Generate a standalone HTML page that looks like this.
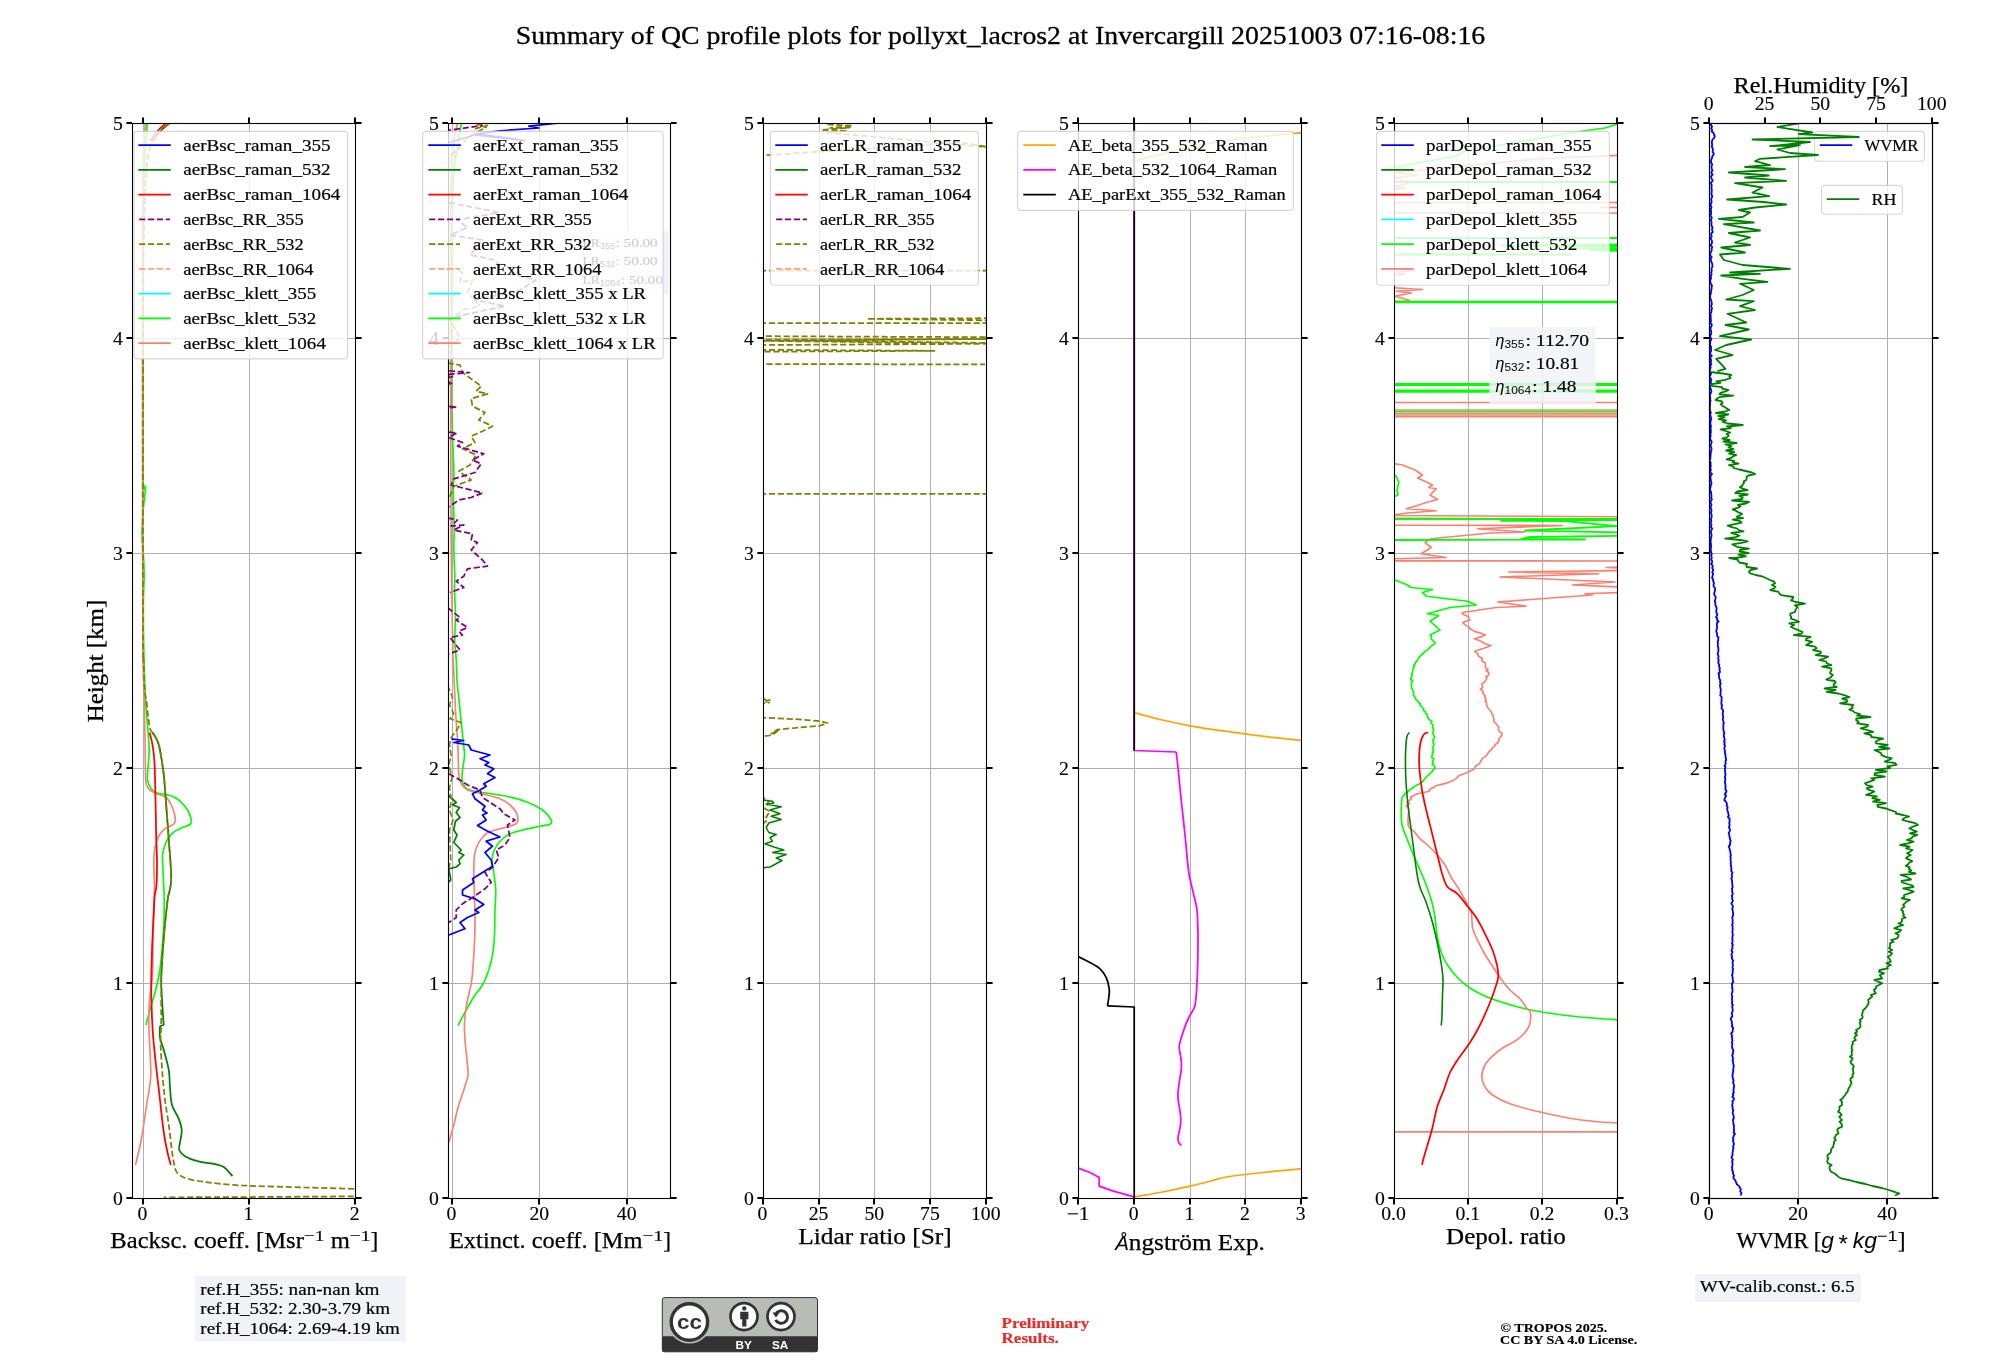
<!DOCTYPE html>
<html><head><meta charset="utf-8"><title>QC profile summary</title>
<style>html,body{margin:0;padding:0;background:#fff;}body{width:2000px;height:1360px;overflow:hidden;font-family:"Liberation Serif",serif;}svg{display:block;}text{white-space:pre;}</style>
</head><body>
<div style="will-change:transform;width:2000px;height:1360px;">
<svg width="2000" height="1360" viewBox="0 0 2000 1360" font-family="'Liberation Serif', serif" xml:space="preserve">
<rect width="2000" height="1360" fill="#fff"/>
<defs>
<clipPath id="c0"><rect x="132.50" y="123.50" width="223.00" height="1075.00"/></clipPath>
<clipPath id="c1"><rect x="448.50" y="123.50" width="222.00" height="1075.00"/></clipPath>
<clipPath id="c2"><rect x="763.50" y="123.50" width="223.00" height="1075.00"/></clipPath>
<clipPath id="c3"><rect x="1078.50" y="123.50" width="223.00" height="1075.00"/></clipPath>
<clipPath id="c4"><rect x="1394.50" y="123.50" width="223.00" height="1075.00"/></clipPath>
<clipPath id="c5"><rect x="1709.50" y="123.50" width="223.00" height="1075.00"/></clipPath>
</defs>
<text x="1000.50" y="43.60" font-size="24.78" text-anchor="middle" textLength="969.50" lengthAdjust="spacingAndGlyphs" fill="#000" stroke="#000" stroke-width="0.28" >Summary of QC profile plots for pollyxt_lacros2 at Invercargill 20251003 07:16-08:16</text>
<line x1="143.50" y1="123.50" x2="143.50" y2="1198.50" stroke="#b0b0b0" stroke-width="1.00" />
<line x1="249.50" y1="123.50" x2="249.50" y2="1198.50" stroke="#b0b0b0" stroke-width="1.00" />
<line x1="355.50" y1="123.50" x2="355.50" y2="1198.50" stroke="#b0b0b0" stroke-width="1.00" />
<line x1="132.50" y1="1198.50" x2="355.50" y2="1198.50" stroke="#b0b0b0" stroke-width="1.00" />
<line x1="132.50" y1="983.50" x2="355.50" y2="983.50" stroke="#b0b0b0" stroke-width="1.00" />
<line x1="132.50" y1="768.50" x2="355.50" y2="768.50" stroke="#b0b0b0" stroke-width="1.00" />
<line x1="132.50" y1="553.50" x2="355.50" y2="553.50" stroke="#b0b0b0" stroke-width="1.00" />
<line x1="132.50" y1="338.50" x2="355.50" y2="338.50" stroke="#b0b0b0" stroke-width="1.00" />
<line x1="132.50" y1="123.50" x2="355.50" y2="123.50" stroke="#b0b0b0" stroke-width="1.00" />
<line x1="452.50" y1="123.50" x2="452.50" y2="1198.50" stroke="#b0b0b0" stroke-width="1.00" />
<line x1="539.50" y1="123.50" x2="539.50" y2="1198.50" stroke="#b0b0b0" stroke-width="1.00" />
<line x1="627.50" y1="123.50" x2="627.50" y2="1198.50" stroke="#b0b0b0" stroke-width="1.00" />
<line x1="448.50" y1="1198.50" x2="670.50" y2="1198.50" stroke="#b0b0b0" stroke-width="1.00" />
<line x1="448.50" y1="983.50" x2="670.50" y2="983.50" stroke="#b0b0b0" stroke-width="1.00" />
<line x1="448.50" y1="768.50" x2="670.50" y2="768.50" stroke="#b0b0b0" stroke-width="1.00" />
<line x1="448.50" y1="553.50" x2="670.50" y2="553.50" stroke="#b0b0b0" stroke-width="1.00" />
<line x1="448.50" y1="338.50" x2="670.50" y2="338.50" stroke="#b0b0b0" stroke-width="1.00" />
<line x1="448.50" y1="123.50" x2="670.50" y2="123.50" stroke="#b0b0b0" stroke-width="1.00" />
<line x1="763.50" y1="123.50" x2="763.50" y2="1198.50" stroke="#b0b0b0" stroke-width="1.00" />
<line x1="819.50" y1="123.50" x2="819.50" y2="1198.50" stroke="#b0b0b0" stroke-width="1.00" />
<line x1="874.50" y1="123.50" x2="874.50" y2="1198.50" stroke="#b0b0b0" stroke-width="1.00" />
<line x1="930.50" y1="123.50" x2="930.50" y2="1198.50" stroke="#b0b0b0" stroke-width="1.00" />
<line x1="986.50" y1="123.50" x2="986.50" y2="1198.50" stroke="#b0b0b0" stroke-width="1.00" />
<line x1="763.50" y1="1198.50" x2="986.50" y2="1198.50" stroke="#b0b0b0" stroke-width="1.00" />
<line x1="763.50" y1="983.50" x2="986.50" y2="983.50" stroke="#b0b0b0" stroke-width="1.00" />
<line x1="763.50" y1="768.50" x2="986.50" y2="768.50" stroke="#b0b0b0" stroke-width="1.00" />
<line x1="763.50" y1="553.50" x2="986.50" y2="553.50" stroke="#b0b0b0" stroke-width="1.00" />
<line x1="763.50" y1="338.50" x2="986.50" y2="338.50" stroke="#b0b0b0" stroke-width="1.00" />
<line x1="763.50" y1="123.50" x2="986.50" y2="123.50" stroke="#b0b0b0" stroke-width="1.00" />
<line x1="1078.50" y1="123.50" x2="1078.50" y2="1198.50" stroke="#b0b0b0" stroke-width="1.00" />
<line x1="1134.50" y1="123.50" x2="1134.50" y2="1198.50" stroke="#b0b0b0" stroke-width="1.00" />
<line x1="1190.50" y1="123.50" x2="1190.50" y2="1198.50" stroke="#b0b0b0" stroke-width="1.00" />
<line x1="1245.50" y1="123.50" x2="1245.50" y2="1198.50" stroke="#b0b0b0" stroke-width="1.00" />
<line x1="1301.50" y1="123.50" x2="1301.50" y2="1198.50" stroke="#b0b0b0" stroke-width="1.00" />
<line x1="1078.50" y1="1198.50" x2="1301.50" y2="1198.50" stroke="#b0b0b0" stroke-width="1.00" />
<line x1="1078.50" y1="983.50" x2="1301.50" y2="983.50" stroke="#b0b0b0" stroke-width="1.00" />
<line x1="1078.50" y1="768.50" x2="1301.50" y2="768.50" stroke="#b0b0b0" stroke-width="1.00" />
<line x1="1078.50" y1="553.50" x2="1301.50" y2="553.50" stroke="#b0b0b0" stroke-width="1.00" />
<line x1="1078.50" y1="338.50" x2="1301.50" y2="338.50" stroke="#b0b0b0" stroke-width="1.00" />
<line x1="1078.50" y1="123.50" x2="1301.50" y2="123.50" stroke="#b0b0b0" stroke-width="1.00" />
<line x1="1394.50" y1="123.50" x2="1394.50" y2="1198.50" stroke="#b0b0b0" stroke-width="1.00" />
<line x1="1468.50" y1="123.50" x2="1468.50" y2="1198.50" stroke="#b0b0b0" stroke-width="1.00" />
<line x1="1542.50" y1="123.50" x2="1542.50" y2="1198.50" stroke="#b0b0b0" stroke-width="1.00" />
<line x1="1617.50" y1="123.50" x2="1617.50" y2="1198.50" stroke="#b0b0b0" stroke-width="1.00" />
<line x1="1394.50" y1="1198.50" x2="1617.50" y2="1198.50" stroke="#b0b0b0" stroke-width="1.00" />
<line x1="1394.50" y1="983.50" x2="1617.50" y2="983.50" stroke="#b0b0b0" stroke-width="1.00" />
<line x1="1394.50" y1="768.50" x2="1617.50" y2="768.50" stroke="#b0b0b0" stroke-width="1.00" />
<line x1="1394.50" y1="553.50" x2="1617.50" y2="553.50" stroke="#b0b0b0" stroke-width="1.00" />
<line x1="1394.50" y1="338.50" x2="1617.50" y2="338.50" stroke="#b0b0b0" stroke-width="1.00" />
<line x1="1394.50" y1="123.50" x2="1617.50" y2="123.50" stroke="#b0b0b0" stroke-width="1.00" />
<line x1="1709.50" y1="123.50" x2="1709.50" y2="1198.50" stroke="#b0b0b0" stroke-width="1.00" />
<line x1="1798.50" y1="123.50" x2="1798.50" y2="1198.50" stroke="#b0b0b0" stroke-width="1.00" />
<line x1="1887.50" y1="123.50" x2="1887.50" y2="1198.50" stroke="#b0b0b0" stroke-width="1.00" />
<line x1="1709.50" y1="1198.50" x2="1932.50" y2="1198.50" stroke="#b0b0b0" stroke-width="1.00" />
<line x1="1709.50" y1="983.50" x2="1932.50" y2="983.50" stroke="#b0b0b0" stroke-width="1.00" />
<line x1="1709.50" y1="768.50" x2="1932.50" y2="768.50" stroke="#b0b0b0" stroke-width="1.00" />
<line x1="1709.50" y1="553.50" x2="1932.50" y2="553.50" stroke="#b0b0b0" stroke-width="1.00" />
<line x1="1709.50" y1="338.50" x2="1932.50" y2="338.50" stroke="#b0b0b0" stroke-width="1.00" />
<line x1="1709.50" y1="123.50" x2="1932.50" y2="123.50" stroke="#b0b0b0" stroke-width="1.00" />
<g clip-path="url(#c0)">
<path d="M147.2 123.5 C147.1 125.0 146.7 130.1 146.4 135.0 C146.1 139.9 145.0 151.3 144.6 160.0 C144.2 168.7 143.6 189.3 143.4 200.0 C143.2 210.7 143.1 204.0 143.0 240.0 C142.9 276.0 142.7 437.1 143.0 470.0 C143.3 502.9 145.5 481.7 145.5 487.0 C145.5 492.3 143.7 503.6 143.2 510.0 C142.7 516.4 142.0 529.4 142.0 535.0 C142.0 540.6 142.9 546.7 143.2 552.0 C143.5 557.3 144.2 568.6 144.2 575.0 C144.2 581.4 143.5 590.0 143.4 600.0 C143.3 610.0 143.5 636.7 143.8 650.0 C144.1 663.3 145.0 690.0 145.5 700.0 C146.0 710.0 147.0 718.3 147.5 725.0 C148.0 731.7 149.2 744.3 149.2 750.0 C149.3 755.7 148.2 763.5 148.0 767.5 C147.8 771.5 147.1 777.2 147.5 780.0 C147.9 782.8 149.9 787.0 151.2 788.8 C152.6 790.5 154.7 792.0 157.5 793.0 C160.3 794.0 169.5 795.1 172.5 796.2 C175.5 797.4 178.0 799.4 180.0 801.2 C182.0 803.1 186.0 807.5 187.5 810.0 C189.0 812.5 190.9 818.1 191.2 820.0 C191.6 821.9 191.3 823.4 190.0 824.5 C188.7 825.6 183.2 827.1 181.2 828.0 C179.2 828.9 176.7 830.0 175.0 831.2 C173.3 832.5 170.1 835.7 168.8 837.5 C167.4 839.3 165.8 842.7 165.0 845.0 C164.2 847.3 162.7 851.0 162.5 855.0 C162.3 859.0 163.0 869.0 163.2 875.0 C163.5 881.0 164.2 893.3 164.2 900.0 C164.3 906.7 164.1 918.3 163.8 925.0 C163.4 931.7 162.6 943.7 162.0 950.0 C161.4 956.3 160.4 966.8 159.5 972.5 C158.6 978.2 156.3 987.5 155.0 992.5 C153.7 997.5 151.2 1005.7 150.0 1010.0 C148.8 1014.3 146.3 1023.0 145.8 1025.0" fill="none" stroke="#00ff00" stroke-width="1.65" stroke-linejoin="round"/>
<path d="M145.3 123.5 C145.1 127.0 144.0 139.8 143.6 150.0 C143.2 160.2 142.7 166.7 142.6 200.0 C142.5 233.3 142.5 341.3 142.5 400.0 C142.5 458.7 142.6 600.0 142.8 640.0 C143.0 680.0 144.0 687.0 144.2 700.0 C144.5 713.0 144.8 726.8 145.0 737.5 C145.2 748.2 145.2 773.2 145.8 780.0 C146.2 786.8 147.5 787.0 148.8 788.8 C150.0 790.5 152.7 791.8 155.0 793.0 C157.3 794.2 164.1 795.9 166.2 797.5 C168.4 799.1 170.1 802.5 171.2 805.0 C172.4 807.5 174.6 813.8 175.0 816.2 C175.4 818.8 175.6 822.1 174.2 823.8 C172.9 825.4 167.1 827.1 165.0 828.8 C162.9 830.4 160.1 833.8 158.8 836.2 C157.4 838.8 155.7 844.0 155.0 847.5 C154.3 851.0 153.8 857.2 153.8 862.5 C153.7 867.8 154.5 880.8 154.5 887.5 C154.5 894.2 153.8 907.5 153.6 912.5 C153.4 917.5 153.1 916.7 153.0 925.0 C152.9 933.3 153.0 965.0 152.5 975.0 C152.0 985.0 150.0 993.3 149.5 1000.0 C149.0 1006.7 148.6 1015.0 148.8 1025.0 C148.9 1035.0 151.1 1064.0 150.8 1075.0 C150.4 1086.0 147.5 1098.8 146.2 1107.5 C145.0 1116.2 142.7 1132.3 141.2 1140.0 C139.8 1147.7 136.3 1161.7 135.5 1165.0" fill="none" stroke="#fa8072" stroke-width="1.65" stroke-linejoin="round"/>
<path d="M150.6 141.0 L154.0 135.0 L160.0 128.5 L166.0 123.3" fill="none" stroke="#ff0000" stroke-width="1.75" stroke-linejoin="round"/>
<path d="M152.8 141.5 L157.0 135.0 L163.0 128.5 L169.5 123.3" fill="none" stroke="#008000" stroke-width="1.75" stroke-linejoin="round"/>
<path d="M152.8 141.5 L157.0 135.0 L163.0 128.5 L169.5 123.3" fill="none" stroke="#808000" stroke-width="1.75" stroke-linejoin="round" stroke-dasharray="6.2 2.7"/>
<path d="M149.5 732.5 C150.0 734.6 151.7 740.0 152.5 745.0 C153.3 750.0 154.0 753.3 154.5 762.5 C155.0 771.7 155.2 787.5 155.5 800.0 C155.8 812.5 156.0 827.1 156.2 837.5 C156.5 847.9 157.0 854.6 157.0 862.5 C157.0 870.4 156.9 879.2 156.5 885.0 C156.1 890.8 155.0 890.8 154.5 897.5 C154.0 904.2 153.7 916.2 153.2 925.0 C152.8 933.8 152.3 940.4 152.0 950.0 C151.7 959.6 151.3 972.1 151.2 982.5 C151.2 992.9 151.4 1003.3 151.8 1012.5 C152.1 1021.7 152.5 1028.3 153.2 1037.5 C154.0 1046.7 155.1 1057.1 156.2 1067.5 C157.4 1077.9 158.8 1089.2 160.0 1100.0 C161.2 1110.8 162.5 1123.8 163.8 1132.5 C165.0 1141.2 166.3 1147.1 167.5 1152.5 C168.7 1157.9 170.2 1162.9 170.8 1165.0" fill="none" stroke="#ff0000" stroke-width="1.75" stroke-linejoin="round"/>
<path d="M152.5 732.5 C153.2 733.8 155.8 737.1 157.0 740.0 C158.2 742.9 158.9 744.2 160.0 750.0 C161.1 755.8 162.7 765.8 163.8 775.0 C164.8 784.2 165.4 794.2 166.2 805.0 C167.1 815.8 168.0 830.4 168.8 840.0 C169.5 849.6 170.1 856.2 170.5 862.5 C170.9 868.8 171.3 873.4 171.2 877.5 C171.2 881.6 170.9 883.7 170.4 887.0 C169.9 890.3 168.7 893.2 168.0 897.5 C167.3 901.8 167.0 905.8 166.2 912.5 C165.5 919.2 164.5 929.2 163.8 937.5 C163.0 945.8 162.4 955.0 162.0 962.5 C161.6 970.0 161.2 975.0 161.2 982.5 C161.3 990.0 162.1 1000.4 162.5 1007.5 C162.9 1014.6 163.5 1022.1 163.8 1025.0" fill="none" stroke="#008000" stroke-width="1.75" stroke-linejoin="round"/>
<path d="M163.8 1025.0 L160.0 1026.0" fill="none" stroke="#008000" stroke-width="1.75" stroke-linejoin="round"/>
<path d="M160.0 1026.0 C160.0 1027.9 159.4 1033.5 160.0 1037.5 C160.6 1041.5 162.3 1044.6 163.8 1050.0 C165.2 1055.4 167.7 1063.8 168.8 1070.0 C169.8 1076.2 169.5 1081.7 170.0 1087.5 C170.5 1093.3 170.5 1099.8 172.0 1105.0 C173.5 1110.2 177.1 1114.6 178.8 1118.8 C180.4 1122.9 181.5 1126.0 181.8 1130.0 C182.0 1134.0 180.4 1139.2 180.0 1142.5 C179.6 1145.8 178.4 1147.7 179.2 1150.0 C180.1 1152.3 182.0 1154.4 185.0 1156.2 C188.0 1158.1 192.5 1159.9 197.5 1161.2 C202.5 1162.6 210.6 1163.3 215.0 1164.2 C219.4 1165.2 220.8 1165.0 223.8 1167.0 C226.7 1169.0 231.0 1174.7 232.5 1176.2" fill="none" stroke="#008000" stroke-width="1.75" stroke-linejoin="round"/>
<path d="M150.3 145.0 C149.9 147.0 148.1 154.7 147.5 160.0 C146.9 165.3 146.0 175.7 145.5 185.0 C145.0 194.3 144.3 214.7 144.0 230.0 C143.7 245.3 143.3 277.3 143.2 300.0 C143.1 322.7 143.0 354.7 143.0 400.0 C143.0 445.3 142.9 605.3 143.0 640.0 C143.1 674.7 143.4 653.3 143.6 660.0 C143.8 666.7 144.2 684.7 144.6 690.0 C145.0 695.3 145.8 696.7 146.3 700.0 C146.8 703.3 147.5 711.2 148.0 715.0 C148.5 718.8 149.4 726.5 150.0 728.8 C150.6 731.1 151.6 731.0 152.5 732.5 C153.4 734.0 156.0 737.7 157.0 740.0 C158.0 742.3 159.1 745.3 160.0 750.0 C160.9 754.7 162.9 767.7 163.8 775.0 C164.6 782.3 165.6 796.3 166.2 805.0 C166.9 813.7 168.2 832.3 168.8 840.0 C169.3 847.7 170.2 857.5 170.5 862.5 C170.8 867.5 171.3 874.2 171.2 877.5 C171.2 880.8 170.8 884.3 170.4 887.0 C170.0 889.7 168.6 894.1 168.0 897.5 C167.4 900.9 166.8 907.2 166.2 912.5 C165.7 917.8 164.3 930.8 163.8 937.5 C163.2 944.2 162.3 956.5 162.0 962.5 C161.7 968.5 161.3 974.2 161.2 982.5 C161.2 990.8 161.3 1017.0 161.2 1025.0 C161.2 1033.0 160.3 1035.8 160.5 1042.5 C160.7 1049.2 161.9 1067.3 162.5 1075.0 C163.1 1082.7 164.2 1093.3 165.0 1100.0 C165.8 1106.7 167.8 1117.7 168.8 1125.0 C169.8 1132.3 171.5 1148.8 172.5 1155.0 C173.5 1161.2 174.6 1168.2 176.2 1171.2 C177.9 1174.3 181.2 1176.6 185.0 1178.0 C188.8 1179.4 197.3 1181.0 205.0 1182.0 C212.7 1183.0 229.2 1184.8 242.5 1185.5 C255.8 1186.2 289.3 1187.0 305.0 1187.5 C320.7 1188.0 350.0 1188.5 360.0 1189.2 C370.0 1189.9 380.0 1192.1 380.0 1193.0 C380.0 1193.9 388.8 1195.6 360.0 1196.2 C331.2 1196.8 189.9 1197.2 163.8 1197.4" fill="none" stroke="#808000" stroke-width="1.75" stroke-linejoin="round" stroke-dasharray="6.2 2.7"/>
</g>
<g clip-path="url(#c1)">
<path d="M461.2 123.2 C461.0 124.8 460.2 130.8 459.5 135.0 C458.8 139.2 457.0 150.0 456.2 155.0 C455.5 160.0 454.2 165.2 453.8 172.5 C453.2 179.8 452.7 187.7 452.5 210.0 C452.3 232.3 452.1 319.3 452.0 340.0 C451.9 360.7 451.5 355.0 451.5 365.0 C451.5 375.0 451.5 402.3 451.8 415.0 C452.0 427.7 453.2 451.7 453.5 460.0 C453.8 468.3 454.0 473.5 454.0 477.5 C454.0 481.5 453.2 483.0 453.2 490.0 C453.3 497.0 454.2 522.3 454.2 530.0 C454.3 537.7 453.7 541.5 453.8 547.5 C453.8 553.5 454.6 569.3 454.8 575.0 C454.9 580.7 454.4 584.7 454.5 590.0 C454.6 595.3 455.5 608.3 455.5 615.0 C455.5 621.7 454.6 634.0 454.8 640.0 C454.9 646.0 455.9 654.7 456.2 660.0 C456.6 665.3 456.7 675.0 457.0 680.0 C457.3 685.0 458.0 690.2 458.8 697.5 C459.5 704.8 461.7 727.3 462.5 735.0 C463.3 742.7 464.5 750.3 464.5 755.0 C464.5 759.7 462.8 766.7 462.5 770.0 C462.2 773.3 461.6 777.7 462.0 780.0 C462.4 782.3 463.8 786.0 465.5 787.5 C467.2 789.0 470.4 790.2 475.0 791.2 C479.6 792.2 493.3 793.7 500.0 795.0 C506.7 796.3 519.3 799.2 525.0 801.2 C530.7 803.2 539.0 807.5 542.5 810.0 C546.0 812.5 550.2 818.1 551.2 820.0 C552.2 821.9 551.5 823.4 550.0 824.2 C548.5 825.1 543.7 825.5 540.0 826.2 C536.3 827.0 526.5 829.0 522.5 830.0 C518.5 831.0 513.0 832.2 510.0 833.8 C507.0 835.2 502.2 838.9 500.0 841.2 C497.8 843.6 494.8 848.8 493.8 851.2 C492.7 853.8 492.0 857.2 492.0 860.0 C492.0 862.8 493.2 868.5 493.8 872.5 C494.2 876.5 495.6 885.0 495.8 890.0 C495.9 895.0 495.2 904.0 495.0 910.0 C494.8 916.0 494.8 929.0 494.5 935.0 C494.2 941.0 493.3 950.3 492.5 955.0 C491.7 959.7 490.1 966.0 488.8 970.0 C487.4 974.0 484.3 981.7 482.5 985.0 C480.7 988.3 477.2 991.7 475.0 995.0 C472.8 998.3 468.5 1005.9 466.2 1010.0 C464.0 1014.1 459.1 1023.4 458.0 1025.5" fill="none" stroke="#00ff00" stroke-width="1.65" stroke-linejoin="round"/>
<path d="M457.5 123.2 C457.2 124.8 455.7 130.8 455.0 135.0 C454.3 139.2 452.5 150.0 452.0 155.0 C451.5 160.0 451.2 147.8 451.0 172.5 C450.8 197.2 450.8 307.7 450.8 340.0 C450.7 372.3 450.7 391.7 450.8 415.0 C450.8 438.3 450.9 491.7 451.0 515.0 C451.1 538.3 451.5 570.7 451.8 590.0 C452.0 609.3 452.8 650.7 453.0 660.0 C453.2 669.3 452.9 653.3 453.2 660.0 C453.6 666.7 454.9 698.3 455.5 710.0 C456.1 721.7 457.6 738.8 458.0 747.5 C458.4 756.2 458.3 770.2 458.8 775.0 C459.2 779.8 460.1 781.8 461.2 783.8 C462.4 785.8 464.7 788.7 467.5 790.0 C470.3 791.3 478.2 792.6 482.5 793.8 C486.8 794.9 496.3 797.2 500.0 798.8 C503.7 800.2 507.8 803.2 510.0 805.0 C512.2 806.8 515.2 810.7 516.2 812.5 C517.3 814.3 518.0 817.2 518.0 818.8 C518.0 820.2 518.0 822.6 516.2 823.8 C514.5 824.9 508.7 826.4 505.0 827.5 C501.3 828.6 491.8 830.7 488.8 832.0 C485.8 833.3 484.0 835.8 482.5 837.5 C481.0 839.2 478.6 842.7 477.5 845.0 C476.4 847.3 475.0 851.3 474.5 855.0 C474.0 858.7 473.8 866.8 473.8 872.5 C473.8 878.2 474.3 890.8 474.5 897.5 C474.7 904.2 475.0 915.8 475.0 922.5 C475.0 929.2 474.6 940.8 474.2 947.5 C473.9 954.2 472.9 967.7 472.5 972.5 C472.1 977.3 472.0 979.8 471.2 983.8 C470.5 987.8 467.9 997.3 467.0 1002.5 C466.1 1007.7 464.8 1017.5 464.5 1022.5 C464.2 1027.5 464.7 1035.0 465.0 1040.0 C465.3 1045.0 466.6 1055.3 467.0 1060.0 C467.4 1064.7 468.4 1071.0 468.0 1075.0 C467.6 1079.0 465.1 1085.7 463.8 1090.0 C462.4 1094.3 459.3 1102.8 458.0 1107.5 C456.7 1112.2 455.0 1120.3 453.8 1125.0 C452.5 1129.7 449.4 1140.2 448.8 1142.5" fill="none" stroke="#fa8072" stroke-width="1.65" stroke-linejoin="round"/>
<path d="M475.0 128.8 L487.5 125.5 L477.5 124.5 L486.2 127.5 L471.2 135.0 L450.0 156.2 L460.0 147.5 L452.5 160.0" fill="none" stroke="#808000" stroke-width="1.75" stroke-linejoin="round" stroke-dasharray="6.2 2.7"/>
<path d="M450.0 267.5 L462.5 272.5 L460.0 282.5 L472.5 280.0 L467.5 292.5 L480.0 306.2 L462.5 310.0 L450.0 320.0 L460.0 337.5 L450.0 347.5" fill="none" stroke="#808000" stroke-width="1.75" stroke-linejoin="round" stroke-dasharray="6.2 2.7"/>
<path d="M448.8 202.5 L498.8 212.5 L457.5 220.0 L467.5 227.5 L450.0 235.0 L482.5 240.0 L470.0 255.0 L495.0 260.0 L505.0 272.5 L536.2 280.0 L520.0 290.0 L475.0 300.0 L505.0 306.2 L462.5 315.0 L448.8 320.0" fill="none" stroke="#800080" stroke-width="1.75" stroke-linejoin="round" stroke-dasharray="6.2 2.7"/>
<path d="M445.0 130.8 L482.5 125.5" fill="none" stroke="#800080" stroke-width="1.75" stroke-linejoin="round" stroke-dasharray="6.2 2.7"/>
<path d="M557.5 123.2 L528.8 126.2 L538.8 128.0 L500.0 130.8 L476.2 133.8 L525.0 140.5 L475.0 135.0 L448.8 142.5" fill="none" stroke="#0000ff" stroke-width="1.75" stroke-linejoin="round"/>
<path d="M447.5 794.5 L456.2 802.5 L452.5 805.0 L459.5 807.5 L456.2 812.5 L460.0 817.5 L455.5 821.2 L453.8 830.0 L457.0 835.0 L453.8 842.5 L461.2 850.0 L458.8 852.5 L463.8 855.0 L458.8 860.0 L460.0 863.8 L456.2 867.0 L448.8 868.8 L450.8 880.0 L447.5 883.0" fill="none" stroke="#008000" stroke-width="1.75" stroke-linejoin="round"/>
<path d="M451.2 738.8 L463.8 740.5 L453.8 742.5 L468.8 745.0 L471.2 750.0 L490.0 755.0 L480.0 758.8 L488.8 762.5 L485.0 765.0 L493.8 768.8 L487.5 773.8 L495.0 777.5 L483.8 783.8 L486.2 786.2 L480.0 790.0 L472.5 793.8 L475.0 798.8 L485.0 806.2 L482.5 810.0 L487.0 813.0 L482.5 815.0 L486.2 820.0 L477.5 825.5 L486.2 830.5 L500.0 837.0 L486.2 841.2 L492.5 846.2 L485.0 852.5 L491.2 860.0 L492.5 866.2 L482.5 872.5 L472.5 878.8 L473.8 882.5 L462.5 890.0 L462.5 895.0 L475.0 898.8 L483.8 904.5 L475.0 910.0 L478.8 912.5 L467.5 917.5 L460.0 922.5 L465.0 928.8 L448.8 935.0" fill="none" stroke="#0000ff" stroke-width="1.75" stroke-linejoin="round"/>
<path d="M447.5 363.0 L460.0 365.0 L462.5 372.5 L481.2 386.2 L476.2 391.2 L487.5 393.8 L471.2 398.8 L472.5 406.2 L485.0 412.5 L478.8 420.0 L492.5 426.2 L482.5 431.2 L471.2 436.2 L475.0 442.5 L462.5 448.8 L476.2 455.0 L470.0 465.0 L458.8 471.2 L471.2 480.0 L453.8 486.2 L450.0 496.2 L446.2 500.0" fill="none" stroke="#808000" stroke-width="1.75" stroke-linejoin="round" stroke-dasharray="6.2 2.7"/>
<path d="M447.5 685.0 L452.5 697.5 L449.5 705.0 L453.8 713.8 L450.0 718.8 L461.2 722.5 L457.5 728.8 L451.2 737.5 L449.5 745.0 L451.2 755.0 L449.0 765.0 L452.0 777.5 L449.5 787.5 L451.5 800.0 L449.5 810.0 L453.0 820.0 L449.5 830.0 L450.8 860.0 L449.0 867.5" fill="none" stroke="#808000" stroke-width="1.60" stroke-linejoin="round" stroke-dasharray="6.2 2.7"/>
<path d="M448.8 773.8 L460.0 780.0 L467.5 785.0 L480.0 790.0 L482.5 797.5 L500.0 808.8 L503.8 813.8 L515.0 820.0 L507.5 825.0 L510.0 837.5 L505.0 845.0 L496.2 850.0 L498.8 857.5 L492.5 867.5 L485.0 872.5 L491.2 882.5 L485.0 888.8 L472.5 897.5 L462.5 903.8 L456.2 910.0 L456.2 917.5 L448.8 922.5" fill="none" stroke="#800080" stroke-width="1.75" stroke-linejoin="round" stroke-dasharray="6.2 2.7"/>
<path d="M440.0 370.0 L469.5 372.5 L440.0 375.0 L452.5 376.5 L440.0 380.0 L452.5 383.0 L440.0 386.2" fill="none" stroke="#800080" stroke-width="1.75" stroke-linejoin="round" stroke-dasharray="6.2 2.7"/>
<path d="M440.0 405.5 L457.0 407.0 L440.0 408.8" fill="none" stroke="#800080" stroke-width="1.75" stroke-linejoin="round" stroke-dasharray="6.2 2.7"/>
<path d="M440.0 431.2 L457.0 433.0 L448.8 437.5 L462.5 442.5 L457.5 446.2 L483.8 453.8 L472.5 460.0 L481.2 463.8 L475.0 472.5 L453.8 478.8 L451.2 485.0 L482.5 493.0 L471.2 497.5 L458.8 500.0 L448.8 507.0" fill="none" stroke="#800080" stroke-width="1.75" stroke-linejoin="round" stroke-dasharray="6.2 2.7"/>
<path d="M447.5 518.0 L457.5 520.0 L451.2 526.2 L463.8 525.0 L453.8 530.0 L472.5 533.8 L471.2 540.0 L477.5 542.5 L471.2 550.0 L482.5 560.0 L487.5 566.2 L467.5 568.8 L463.8 576.2 L456.2 581.2 L463.8 587.5 L450.0 592.5" fill="none" stroke="#800080" stroke-width="1.75" stroke-linejoin="round" stroke-dasharray="6.2 2.7"/>
<path d="M447.5 607.5 L460.0 617.5 L456.2 620.0 L467.5 627.5 L458.8 631.2 L462.5 635.0 L450.0 637.5 L460.0 650.0 L447.5 654.5" fill="none" stroke="#800080" stroke-width="1.75" stroke-linejoin="round" stroke-dasharray="6.2 2.7"/>
</g>
<g clip-path="url(#c2)">
<path d="M827.5 124.5 L852.5 125.8 L830.0 128.0 L850.0 127.5 L821.2 130.0 L847.5 130.8 L827.0 132.5 L990.0 147.3 L960.0 142.4 L760.0 155.6" fill="none" stroke="#808000" stroke-width="1.75" stroke-linejoin="round" stroke-dasharray="6.2 2.7"/>
<path d="M760.0 270.5 L990.0 270.5" fill="none" stroke="#808000" stroke-width="1.75" stroke-linejoin="round" stroke-dasharray="6.2 2.7"/>
<path d="M990.0 318.2 L867.2 318.8 L990.0 320.4" fill="none" stroke="#808000" stroke-width="1.75" stroke-linejoin="round" stroke-dasharray="6.2 2.7"/>
<path d="M760.0 323.0 L990.0 323.0" fill="none" stroke="#808000" stroke-width="1.75" stroke-linejoin="round" stroke-dasharray="6.2 2.7"/>
<path d="M765.8 336.2 L986.0 337.2" fill="none" stroke="#808000" stroke-width="1.75" stroke-linejoin="round" stroke-dasharray="6.2 2.7"/>
<path d="M760.0 345.0 L990.0 343.8 L760.0 340.8 L990.0 339.0 L760.0 339.9 L990.0 343.0" fill="none" stroke="#808000" stroke-width="1.75" stroke-linejoin="round" stroke-dasharray="6.2 2.7"/>
<path d="M760.0 349.8 L934.5 350.8 L760.0 351.7" fill="none" stroke="#808000" stroke-width="1.75" stroke-linejoin="round" stroke-dasharray="6.2 2.7"/>
<path d="M766.4 364.2 L985.0 364.3" fill="none" stroke="#808000" stroke-width="1.75" stroke-linejoin="round" stroke-dasharray="6.2 2.7"/>
<path d="M760.0 493.8 L990.0 493.8" fill="none" stroke="#808000" stroke-width="1.75" stroke-linejoin="round" stroke-dasharray="6.2 2.7"/>
<path d="M760.0 698.8 L770.0 700.0 L763.8 701.2 L769.5 702.5 L760.0 703.8" fill="none" stroke="#808000" stroke-width="1.75" stroke-linejoin="round" stroke-dasharray="6.2 2.7"/>
<path d="M760.0 717.5 L795.0 719.2 L820.0 721.2 L827.5 723.0 L820.0 725.8 L777.5 729.5 L771.2 733.8 L778.0 730.5 L772.5 735.0 L760.0 737.0" fill="none" stroke="#808000" stroke-width="1.75" stroke-linejoin="round" stroke-dasharray="6.2 2.7"/>
<path d="M760.0 795.5 L768.8 801.2 L765.0 808.8 L770.0 811.2 L766.2 817.0 L767.5 820.0 L761.2 825.0" fill="none" stroke="#808000" stroke-width="1.75" stroke-linejoin="round" stroke-dasharray="6.2 2.7"/>
<path d="M760.0 799.5 L772.5 801.2 L773.8 803.0 L766.2 804.2 L781.2 806.8 L770.0 810.0 L780.0 813.8 L771.2 816.2 L781.2 819.5 L768.8 823.0 L766.2 827.5 L768.8 832.5 L776.2 834.5 L770.0 837.5 L772.5 841.2 L765.0 843.8 L773.8 847.0 L783.8 850.0 L772.5 852.5 L786.2 854.5 L776.2 858.0 L782.0 860.5 L773.8 865.0 L770.0 867.0 L760.0 868.2" fill="none" stroke="#008000" stroke-width="1.50" stroke-linejoin="round"/>
</g>
<g clip-path="url(#c3)">
<path d="M1305.0 132.5 C1295.8 133.3 1267.5 135.4 1250.0 137.5 C1232.5 139.6 1214.6 142.3 1200.0 145.0 C1185.4 147.7 1173.5 151.0 1162.5 153.8 C1151.5 156.5 1139.0 160.0 1134.2 161.2" fill="none" stroke="#ffa500" stroke-width="1.75" stroke-linejoin="round"/>
<path d="M1134.2 712.5 C1139.0 713.8 1153.2 717.8 1162.5 720.0 C1171.8 722.2 1179.6 723.9 1190.0 725.8 C1200.4 727.6 1212.9 729.5 1225.0 731.2 C1237.1 733.0 1249.2 734.7 1262.5 736.2 C1275.8 737.8 1297.9 740.0 1305.0 740.8" fill="none" stroke="#ffa500" stroke-width="1.75" stroke-linejoin="round"/>
<path d="M1134.2 1196.8 C1138.0 1196.1 1155.1 1193.4 1162.5 1192.0 C1169.9 1190.6 1183.3 1187.8 1190.0 1186.2 C1196.7 1184.7 1208.0 1181.7 1212.5 1180.5 C1217.0 1179.3 1219.4 1178.3 1223.8 1177.5 C1228.1 1176.7 1238.2 1175.3 1245.0 1174.5 C1251.8 1173.7 1267.0 1172.1 1275.0 1171.2 C1283.0 1170.4 1301.0 1168.7 1305.0 1168.2" fill="none" stroke="#ffa500" stroke-width="1.75" stroke-linejoin="round"/>
<path d="M1134.2 120.0 L1134.2 750.5 L1176.2 752.0" fill="none" stroke="#ff00ff" stroke-width="1.75" stroke-linejoin="round"/>
<path d="M1176.2 752.0 C1176.5 754.1 1177.3 761.1 1178.0 767.5 C1178.7 773.9 1180.3 791.0 1181.2 800.0 C1182.2 809.0 1184.0 825.3 1185.0 835.0 C1186.0 844.7 1187.6 864.5 1188.8 872.5 C1189.9 880.5 1192.7 890.0 1193.8 895.0 C1194.8 900.0 1196.4 904.7 1197.0 910.0 C1197.6 915.3 1197.9 928.3 1198.0 935.0 C1198.1 941.7 1197.9 953.7 1197.8 960.0 C1197.6 966.3 1197.4 976.4 1197.0 982.5 C1196.6 988.6 1196.1 1000.8 1195.0 1005.5 C1193.9 1010.2 1190.2 1014.2 1188.8 1017.5 C1187.2 1020.8 1185.0 1026.2 1183.8 1030.0 C1182.5 1033.8 1179.6 1042.2 1179.2 1046.2 C1178.9 1050.2 1181.0 1056.8 1181.2 1060.0 C1181.5 1063.2 1181.6 1066.7 1181.2 1070.0 C1180.9 1073.3 1179.2 1081.3 1178.8 1085.0 C1178.3 1088.7 1177.8 1093.5 1178.0 1097.5 C1178.2 1101.5 1180.2 1111.3 1180.5 1115.0 C1180.8 1118.7 1180.8 1122.0 1180.5 1125.0 C1180.2 1128.0 1178.2 1135.2 1178.0 1137.5 C1177.8 1139.8 1178.3 1141.4 1178.8 1142.5 C1179.2 1143.6 1180.9 1145.1 1181.2 1145.5" fill="none" stroke="#ff00ff" stroke-width="1.75" stroke-linejoin="round"/>
<path d="M1075.0 1166.8 L1090.0 1172.5 L1099.2 1177.5 L1099.2 1186.2 L1112.5 1190.8 L1134.2 1196.8" fill="none" stroke="#ff00ff" stroke-width="1.75" stroke-linejoin="round"/>
<path d="M1134.2 120.0 L1134.2 750.5" fill="none" stroke="#000" stroke-width="1.75" stroke-linejoin="round"/>
<path d="M1075.0 955.0 C1077.1 956.0 1083.3 959.0 1087.5 961.2 C1091.7 963.5 1096.9 966.0 1100.0 968.8 C1103.1 971.5 1104.7 974.2 1106.2 977.5 C1107.8 980.8 1108.8 985.4 1109.2 988.8 C1109.7 992.1 1109.0 994.7 1108.8 997.5 C1108.5 1000.3 1107.7 1004.4 1107.5 1005.8" fill="none" stroke="#000" stroke-width="1.75" stroke-linejoin="round"/>
<path d="M1107.5 1005.8 L1134.2 1007.0 L1134.2 1198.8" fill="none" stroke="#000" stroke-width="1.75" stroke-linejoin="round"/>
</g>
<g clip-path="url(#c4)">
<path d="M1622.5 155.2 L1540.0 158.8 L1396.2 172.5 L1417.5 175.5 L1396.2 177.5 L1407.5 183.8 L1395.5 186.2 L1405.0 188.0 L1390.0 190.0" fill="none" stroke="#fa8072" stroke-width="1.65" stroke-linejoin="round"/>
<path d="M1390.0 202.5 L1622.0 202.5" fill="none" stroke="#fa8072" stroke-width="1.65" stroke-linejoin="round"/>
<path d="M1390.0 213.0 L1622.0 213.0" fill="none" stroke="#fa8072" stroke-width="1.65" stroke-linejoin="round"/>
<path d="M1600.0 207.5 L1622.0 207.5" fill="none" stroke="#fa8072" stroke-width="1.65" stroke-linejoin="round"/>
<path d="M1622.5 122.5 L1605.0 128.0 L1572.5 132.5 L1465.0 151.2 L1455.0 156.2 L1390.0 168.0" fill="none" stroke="#00ff00" stroke-width="1.65" stroke-linejoin="round"/>
<path d="M1390.0 182.0 L1622.0 182.0" fill="none" stroke="#00ff00" stroke-width="2.00" stroke-linejoin="round"/>
<path d="M1390.0 238.0 L1622.0 238.0" fill="none" stroke="#00ff00" stroke-width="2.00" stroke-linejoin="round"/>
<path d="M1622.5 244.5 L1502.5 245.5 L1622.5 246.5 L1565.0 247.5 L1622.5 248.8 L1590.0 250.0 L1622.5 250.8" fill="none" stroke="#00ff00" stroke-width="2.00" stroke-linejoin="round"/>
<path d="M1390.0 254.5 L1572.0 254.5" fill="none" stroke="#00ff00" stroke-width="1.80" stroke-linejoin="round"/>
<path d="M1390.0 268.8 L1415.0 270.5 L1396.2 272.5 L1405.0 274.0 L1390.0 275.5" fill="none" stroke="#fa8072" stroke-width="1.65" stroke-linejoin="round"/>
<path d="M1390.0 287.5 L1422.5 289.5 L1396.2 291.2 L1411.2 293.0 L1395.0 296.2 L1410.0 300.5 L1390.0 302.0" fill="none" stroke="#fa8072" stroke-width="1.65" stroke-linejoin="round"/>
<path d="M1390.0 302.0 L1622.0 302.0" fill="none" stroke="#00ff00" stroke-width="2.40" stroke-linejoin="round"/>
<path d="M1390.0 384.5 L1622.0 384.5" fill="none" stroke="#00ff00" stroke-width="3.20" stroke-linejoin="round"/>
<path d="M1390.0 391.2 L1622.0 391.2" fill="none" stroke="#00ff00" stroke-width="3.20" stroke-linejoin="round"/>
<path d="M1390.0 402.5 L1622.0 402.5" fill="none" stroke="#fa8072" stroke-width="1.50" stroke-linejoin="round"/>
<path d="M1390.0 410.0 L1622.0 410.0" fill="none" stroke="#fa8072" stroke-width="1.65" stroke-linejoin="round"/>
<path d="M1390.0 411.8 L1622.0 411.8" fill="none" stroke="#00ff00" stroke-width="1.40" stroke-linejoin="round"/>
<path d="M1390.0 413.8 L1622.0 413.8" fill="none" stroke="#fa8072" stroke-width="1.65" stroke-linejoin="round"/>
<path d="M1390.0 416.3 L1622.0 416.3" fill="none" stroke="#fa8072" stroke-width="2.20" stroke-linejoin="round"/>
<path d="M1390.0 463.0 L1402.5 465.0 L1415.0 470.0 L1422.5 475.0 L1417.5 478.0 L1427.5 482.5 L1432.5 485.0 L1428.8 487.5 L1436.2 488.8 L1430.0 495.0 L1437.5 499.5 L1426.2 502.5 L1415.0 506.2 L1406.2 508.8 L1436.2 510.8 L1407.5 513.0 L1390.0 515.5 L1622.5 516.8 L1622.5 519.2 L1390.0 519.5 L1390.0 525.2 L1562.5 525.5 L1477.5 528.8 L1525.0 532.0 L1490.0 533.0 L1431.2 538.8 L1425.0 542.5 L1431.2 547.5 L1421.2 553.8 L1446.2 557.5 L1390.0 558.8 L1390.0 560.8 L1622.5 561.0" fill="none" stroke="#fa8072" stroke-width="1.65" stroke-linejoin="round"/>
<path d="M1390.0 472.5 L1396.2 476.2 L1398.8 482.5 L1397.0 490.0 L1398.0 495.0 L1390.0 498.8" fill="none" stroke="#00ff00" stroke-width="1.65" stroke-linejoin="round"/>
<path d="M1390.0 518.5 L1622.5 519.0 L1622.5 520.2 L1501.2 520.8 L1565.0 521.2 L1617.2 526.2 L1525.0 530.5 L1622.5 532.5 L1622.5 535.8 L1530.0 537.0 L1521.2 538.8 L1585.0 539.5 L1390.0 540.0" fill="none" stroke="#00ff00" stroke-width="1.80" stroke-linejoin="round"/>
<path d="M1622.5 567.0 L1606.2 567.5 L1622.5 568.2" fill="none" stroke="#fa8072" stroke-width="1.65" stroke-linejoin="round"/>
<path d="M1622.5 570.5 L1508.8 572.0 L1598.8 573.8 L1500.0 577.0 L1615.0 582.0 L1572.5 585.0 L1622.5 587.0 L1622.5 592.5 L1585.0 593.8 L1592.5 595.0 L1497.5 602.0 L1526.2 606.2 L1496.2 607.5 L1462.5 612.5 L1462.2 612.5 L1462.3 614.0 L1465.8 615.5 L1468.9 617.0 L1468.4 618.5 L1470.0 620.0 L1462.6 622.5 L1464.4 624.1 L1466.5 625.6 L1469.0 627.2 L1470.0 628.8 L1472.5 630.3 L1475.8 631.9 L1481.5 633.4 L1485.4 635.0 L1480.7 636.9 L1474.3 638.8 L1478.3 640.1 L1481.4 641.5 L1483.3 642.8 L1486.0 644.1 L1491.1 645.5 L1487.3 646.9 L1483.2 648.4 L1479.1 649.8 L1474.7 651.2 L1475.9 652.7 L1478.0 654.2 L1478.1 655.6 L1479.7 657.1 L1482.6 658.5 L1481.7 660.0 L1482.4 661.4 L1485.2 662.8 L1485.2 664.1 L1485.6 665.5 L1485.4 666.9 L1485.4 668.2 L1488.1 669.6 L1486.1 671.0 L1488.8 672.4 L1489.0 673.8 L1488.4 675.2 L1485.8 676.6 L1487.1 678.0 L1486.3 679.4 L1485.2 680.8 L1484.3 682.2 L1481.9 683.6 L1481.9 685.0 L1482.7 686.4 L1482.6 687.7 L1480.2 689.1 L1482.5 690.5 L1483.3 691.8 L1482.7 693.2 L1483.8 694.5 L1485.2 695.9 L1484.6 697.3 L1485.9 698.6 L1485.0 700.0" fill="none" stroke="#fa8072" stroke-width="1.65" stroke-linejoin="round"/>
<path d="M1390.0 578.0 L1407.5 585.0 L1411.2 587.5 L1432.5 589.5 L1422.5 592.5 L1426.2 596.2 L1467.5 601.2 L1476.2 605.0 L1450.0 607.5 L1427.5 613.8 L1438.8 615.5 L1430.0 621.2 L1440.0 630.0 L1430.0 635.0 L1430.4 635.0 L1431.6 636.5 L1431.2 637.9 L1431.7 639.4 L1433.1 640.8 L1434.8 642.3 L1434.9 643.8 L1432.2 645.2 L1430.5 646.6 L1429.2 648.0 L1428.2 649.5 L1426.0 650.9 L1424.1 652.3 L1422.4 653.8 L1421.3 655.2 L1419.6 656.7 L1418.7 658.1 L1417.7 659.6 L1417.2 661.0 L1415.2 662.5 L1415.2 663.9 L1413.8 665.2 L1414.3 666.6 L1413.6 668.0 L1412.8 669.3 L1412.6 670.7 L1412.8 672.0 L1411.8 673.4 L1412.1 674.8 L1412.1 676.1 L1410.8 677.5" fill="none" stroke="#00ff00" stroke-width="1.65" stroke-linejoin="round"/>
<path d="M1411.1 677.5 L1410.6 679.2 L1412.9 680.8 L1411.3 682.5 L1411.2 683.9 L1411.7 685.3 L1411.4 686.7 L1411.6 688.1 L1412.8 689.5 L1412.7 690.9 L1413.8 692.3 L1413.7 693.8 L1413.4 695.1 L1414.3 696.5 L1415.5 697.9 L1415.6 699.3 L1417.6 700.7 L1418.5 702.1 L1420.2 703.5 L1420.0 704.9 L1421.0 706.2 L1422.5 707.6 L1423.6 709.0 L1423.3 710.4 L1425.7 711.8 L1425.4 713.1 L1427.3 714.5 L1427.3 715.9 L1428.0 717.2 L1428.2 718.6 L1429.7 720.0 L1432.0 721.5 L1430.9 723.0 L1432.5 724.5 L1433.1 726.0 L1432.5 727.5 L1433.4 728.9 L1433.8 730.2 L1432.9 731.6 L1432.6 733.0 L1433.7 734.3 L1433.6 735.7 L1434.8 737.0 L1434.0 738.4 L1432.9 739.8 L1433.5 741.1 L1432.9 742.5 L1434.0 743.8 L1434.0 745.2 L1433.2 746.5 L1432.6 747.9 L1433.6 749.2 L1432.8 750.6 L1433.6 751.9 L1432.2 753.3 L1432.3 754.6 L1432.0 756.0 L1431.5 757.3 L1433.8 758.7 L1433.5 760.0 L1432.3 761.5 L1433.3 762.9 L1432.1 764.4 L1434.3 765.8 L1434.9 767.3 L1434.4 768.8 L1432.9 770.2 L1431.8 771.8 L1430.6 773.2 L1428.7 774.8 L1426.9 776.2 L1425.6 777.8 L1424.0 779.4 L1423.3 780.9 L1421.4 782.5 L1419.2 784.0 L1415.7 785.5 L1414.0 787.0 L1411.9 788.5 L1409.6 790.0 L1408.2 791.4 L1406.6 792.8 L1404.1 794.2 L1404.0 795.6 L1402.0 797.0" fill="none" stroke="#00ff00" stroke-width="1.65" stroke-linejoin="round"/>
<path d="M1402.0 797.0 C1401.9 798.7 1401.2 806.3 1401.2 810.0 C1401.2 813.7 1401.4 821.7 1402.0 825.0 C1402.6 828.3 1404.1 831.3 1405.5 835.0 C1406.9 838.7 1410.6 847.8 1412.5 852.5 C1414.4 857.2 1418.2 865.7 1420.0 870.0 C1421.8 874.3 1424.7 880.7 1426.2 885.0 C1427.8 889.3 1430.8 898.2 1432.0 902.5 C1433.2 906.8 1434.3 913.2 1435.0 917.5 C1435.7 921.8 1436.2 930.3 1437.0 935.0 C1437.8 939.7 1439.8 948.5 1441.2 952.5 C1442.7 956.5 1445.3 961.7 1447.5 965.0 C1449.7 968.3 1454.8 974.7 1457.5 977.5 C1460.2 980.3 1464.5 984.1 1467.5 986.2 C1470.5 988.4 1476.3 991.9 1480.0 993.8 C1483.7 995.6 1489.7 998.2 1495.0 1000.0 C1500.3 1001.8 1513.3 1005.8 1520.0 1007.5 C1526.7 1009.2 1537.3 1011.3 1545.0 1012.5 C1552.7 1013.7 1567.2 1015.7 1577.5 1016.8 C1587.8 1017.8 1616.5 1019.8 1622.5 1020.2" fill="none" stroke="#00ff00" stroke-width="1.65" stroke-linejoin="round"/>
<path d="M1486.9 700.0 L1485.0 701.4 L1486.4 702.7 L1486.7 704.1 L1486.7 705.4 L1487.4 706.8 L1488.1 708.1 L1489.2 709.5 L1490.3 710.8 L1491.6 712.2 L1491.6 713.5 L1492.9 714.9 L1493.1 716.2 L1493.5 717.7 L1493.9 719.1 L1493.9 720.5 L1494.0 722.0 L1496.0 723.4 L1496.9 724.8 L1498.2 726.2 L1498.9 727.6 L1498.2 729.0 L1499.1 730.4 L1499.4 731.8 L1501.9 733.1 L1502.0 734.5 L1501.5 735.9 L1500.2 737.2 L1499.1 738.6 L1499.2 740.0 L1498.4 741.5 L1497.8 742.9 L1494.9 744.4 L1495.0 745.8 L1492.9 747.3 L1491.8 748.8 L1490.3 750.4 L1488.6 752.1 L1487.7 753.8 L1486.7 755.3 L1484.8 756.9 L1482.3 758.4 L1481.5 760.0 L1480.5 761.5 L1479.9 762.9 L1478.5 764.4 L1475.7 765.8 L1475.0 767.3 L1474.4 768.8 L1472.6 770.1 L1468.9 771.5 L1466.7 772.8 L1463.3 774.1 L1459.0 775.5 L1457.6 777.1 L1456.0 778.6 L1453.8 780.2 L1450.0 781.8 L1446.7 783.1 L1441.5 784.4 L1435.5 785.8 L1434.3 787.1 L1431.1 788.5 L1429.3 789.9 L1429.6 791.2 L1417.3 793.8 L1413.8 795.4 L1410.6 797.0 L1411.6 798.3 L1410.3 799.6 L1408.8 800.9 L1407.1 802.2 L1409.6 803.5 L1407.2 804.8 L1406.1 806.1 L1407.8 807.4 L1408.6 808.7 L1408.8 810.0" fill="none" stroke="#fa8072" stroke-width="1.65" stroke-linejoin="round"/>
<path d="M1408.8 810.0 C1408.7 811.3 1408.0 817.7 1408.0 820.0 C1408.0 822.3 1408.0 825.5 1408.8 827.0 C1409.5 828.5 1412.2 829.7 1413.8 831.2 C1415.2 832.8 1418.2 836.9 1420.0 838.8 C1421.8 840.6 1425.3 843.0 1427.5 845.0 C1429.7 847.0 1433.9 851.1 1436.2 853.8 C1438.6 856.4 1443.0 861.8 1445.0 865.0 C1447.0 868.2 1449.4 874.3 1451.2 877.5 C1453.1 880.7 1456.9 885.8 1458.8 888.8 C1460.6 891.8 1463.3 896.8 1465.0 900.0 C1466.7 903.2 1470.2 908.8 1471.2 912.5 C1472.2 916.2 1471.8 924.2 1472.5 927.5 C1473.2 930.8 1474.8 934.2 1476.2 937.5 C1477.8 940.8 1481.6 948.7 1483.8 952.5 C1485.9 956.3 1490.3 962.9 1492.5 966.2 C1494.7 969.6 1497.7 974.3 1500.0 977.5 C1502.3 980.7 1507.3 987.2 1510.0 990.0 C1512.7 992.8 1517.8 996.4 1520.0 998.8 C1522.2 1001.1 1524.8 1005.6 1526.2 1007.5 C1527.7 1009.4 1530.1 1010.7 1530.5 1013.0 C1530.9 1015.3 1530.4 1022.2 1529.5 1025.0 C1528.6 1027.8 1525.7 1031.6 1523.8 1033.8 C1521.8 1035.9 1517.8 1039.3 1515.0 1041.2 C1512.2 1043.2 1505.5 1046.0 1502.5 1048.0 C1499.5 1050.0 1494.8 1054.0 1492.5 1056.2 C1490.2 1058.5 1486.4 1062.3 1485.0 1065.0 C1483.6 1067.7 1481.8 1073.4 1481.8 1076.2 C1481.7 1079.1 1483.1 1083.8 1484.5 1086.2 C1485.9 1088.8 1489.1 1092.7 1492.5 1095.0 C1495.9 1097.3 1503.7 1101.5 1510.0 1103.8 C1516.3 1106.0 1532.0 1110.1 1540.0 1112.0 C1548.0 1113.9 1563.0 1117.0 1570.0 1118.2 C1577.0 1119.5 1585.5 1120.6 1592.5 1121.2 C1599.5 1121.9 1618.5 1123.0 1622.5 1123.2" fill="none" stroke="#fa8072" stroke-width="1.65" stroke-linejoin="round"/>
<path d="M1390.0 1131.8 L1622.0 1131.8" fill="none" stroke="#fa8072" stroke-width="1.80" stroke-linejoin="round"/>
<path d="M1409.5 732.5 C1409.1 733.1 1407.6 733.8 1407.0 736.2 C1406.4 738.8 1406.0 742.3 1405.8 747.5 C1405.5 752.7 1405.4 761.2 1405.5 767.5 C1405.6 773.8 1405.8 778.8 1406.2 785.0 C1406.7 791.2 1407.3 798.3 1408.0 805.0 C1408.7 811.7 1409.5 817.5 1410.5 825.0 C1411.5 832.5 1412.7 842.1 1413.8 850.0 C1414.8 857.9 1415.7 866.2 1416.8 872.5 C1417.8 878.8 1418.4 882.5 1420.0 887.5 C1421.6 892.5 1424.2 896.7 1426.2 902.5 C1428.3 908.3 1430.5 915.0 1432.5 922.5 C1434.5 930.0 1436.7 940.0 1438.2 947.5 C1439.8 955.0 1441.0 962.1 1441.8 967.5 C1442.5 972.9 1442.9 975.4 1443.0 980.0 C1443.1 984.6 1442.7 989.2 1442.5 995.0 C1442.3 1000.8 1442.2 1009.9 1442.0 1015.0 C1441.8 1020.1 1441.4 1023.8 1441.2 1025.5" fill="none" stroke="#008000" stroke-width="1.60" stroke-linejoin="round"/>
<path d="M1428.0 732.5 C1427.3 732.8 1425.0 732.8 1423.8 734.5 C1422.5 736.2 1421.2 739.1 1420.5 742.5 C1419.8 745.9 1419.4 750.4 1419.2 755.0 C1419.1 759.6 1419.0 764.2 1419.5 770.0 C1420.0 775.8 1420.9 783.3 1422.0 790.0 C1423.1 796.7 1424.5 802.5 1426.2 810.0 C1428.0 817.5 1430.5 827.1 1432.5 835.0 C1434.5 842.9 1436.3 850.8 1438.0 857.5 C1439.7 864.2 1440.9 870.1 1442.5 875.0 C1444.1 879.9 1445.0 883.9 1447.5 887.0 C1450.0 890.1 1454.2 890.5 1457.5 893.8 C1460.8 897.0 1464.4 902.3 1467.5 906.2 C1470.6 910.2 1473.3 912.9 1476.2 917.5 C1479.2 922.1 1482.3 928.3 1485.0 933.8 C1487.7 939.2 1490.5 944.8 1492.5 950.0 C1494.5 955.2 1496.0 960.6 1497.0 965.0 C1498.0 969.4 1498.4 972.9 1498.2 976.2 C1498.1 979.6 1497.6 980.6 1496.2 985.0 C1494.9 989.4 1492.7 995.8 1490.0 1002.5 C1487.3 1009.2 1483.3 1018.3 1480.0 1025.0 C1476.7 1031.7 1473.8 1036.7 1470.0 1042.5 C1466.2 1048.3 1460.8 1055.0 1457.5 1060.0 C1454.2 1065.0 1452.3 1067.5 1450.0 1072.5 C1447.7 1077.5 1445.9 1084.2 1443.8 1090.0 C1441.6 1095.8 1438.9 1101.2 1437.0 1107.5 C1435.1 1113.8 1434.1 1121.2 1432.5 1127.5 C1430.9 1133.8 1429.0 1140.0 1427.5 1145.0 C1426.0 1150.0 1424.7 1154.2 1423.8 1157.5 C1422.8 1160.8 1422.3 1163.8 1422.0 1165.0" fill="none" stroke="#ff0000" stroke-width="1.75" stroke-linejoin="round"/>
</g>
<g clip-path="url(#c5)">
<path d="M1710.7 123.2 L1710.9 124.9 L1712.1 126.6 L1711.1 128.3 L1712.2 130.0 L1711.7 131.5 L1713.6 133.0 L1713.9 134.5 L1714.8 136.0 L1714.4 137.5 L1712.2 140.0 L1712.0 141.5 L1711.8 143.0 L1712.3 144.5 L1711.8 146.0 L1712.2 147.5 L1712.9 149.0 L1712.8 150.5 L1712.6 152.0 L1713.9 153.5 L1713.2 155.0 L1712.2 156.7 L1711.9 158.3 L1711.0 160.0 L1711.0 161.5 L1711.1 162.9 L1712.3 164.4 L1711.6 165.9 L1711.5 167.4 L1711.8 168.8 L1712.5 170.3 L1711.6 171.8 L1711.2 173.2 L1712.7 174.7 L1711.1 176.2 L1711.3 177.6 L1711.9 179.1 L1712.8 180.6 L1711.5 182.1 L1710.5 183.5 L1711.8 185.0 L1711.5 186.5 L1711.4 187.9 L1711.8 189.4 L1711.7 190.9 L1711.7 192.4 L1711.3 193.8 L1712.0 195.3 L1712.2 196.8 L1711.5 198.2 L1711.1 199.7 L1711.6 201.2 L1711.5 202.6 L1710.7 204.1 L1710.8 205.6 L1711.5 207.1 L1711.1 208.5 L1710.8 210.0 L1711.1 211.5 L1711.1 212.9 L1711.1 214.4 L1710.2 215.9 L1711.8 217.4 L1711.4 218.8 L1710.8 220.3 L1711.6 221.8 L1711.5 223.2 L1711.3 224.7 L1711.8 226.2 L1712.6 227.6 L1711.9 229.1 L1712.3 230.6 L1712.7 232.1 L1711.2 233.5 L1711.2 235.0 L1711.8 236.5 L1710.7 237.9 L1711.1 239.4 L1712.0 240.9 L1712.0 242.4 L1711.7 243.8 L1710.5 245.3 L1712.2 246.8 L1711.7 248.2 L1711.7 249.7 L1711.5 251.2 L1710.4 252.6 L1710.3 254.1 L1710.3 255.6 L1711.8 257.1 L1710.8 258.5 L1710.8 260.0 L1711.2 261.5 L1711.9 262.9 L1712.3 264.4 L1712.5 265.8 L1712.1 267.3 L1711.4 268.8 L1711.8 270.6 L1711.1 272.5 L1711.6 273.9 L1711.1 275.4 L1710.7 276.8 L1711.1 278.3 L1710.3 279.7 L1710.3 281.2 L1710.4 282.6 L1711.0 284.0 L1712.0 285.5 L1711.6 286.9 L1711.7 288.4 L1711.2 289.8 L1711.2 291.2 L1710.8 292.7 L1710.8 294.1 L1709.8 295.6 L1710.2 297.0 L1710.2 298.5 L1711.2 299.9 L1711.4 301.3 L1711.6 302.8 L1711.9 304.2 L1711.0 305.7 L1711.5 307.1 L1712.1 308.6 L1711.2 310.0 L1711.6 311.4 L1711.0 312.9 L1710.2 314.3 L1710.9 315.7 L1710.5 317.1 L1710.9 318.6 L1710.7 320.0 L1711.1 321.4 L1709.9 322.9 L1711.7 324.3 L1711.7 325.7 L1710.9 327.1 L1710.5 328.6 L1710.8 330.0 L1711.2 331.4 L1711.2 332.9 L1711.1 334.3 L1710.0 335.7 L1710.1 337.1 L1711.4 338.6 L1711.1 340.0 L1710.1 341.4 L1710.3 342.9 L1710.0 344.3 L1710.2 345.7 L1711.3 347.1 L1710.8 348.6 L1711.3 350.0 L1711.0 351.4 L1710.1 352.9 L1710.3 354.3 L1711.8 355.7 L1710.6 357.1 L1710.2 358.6 L1711.3 360.0 L1710.9 361.5 L1710.7 362.9 L1711.4 364.4 L1710.0 365.9 L1710.7 367.4 L1710.2 368.8 L1709.8 370.3 L1710.1 371.8 L1711.1 373.2 L1710.6 374.7 L1709.7 376.2 L1709.8 377.6 L1711.2 379.1 L1711.2 380.6 L1710.1 382.1 L1711.6 383.5 L1710.5 385.0 L1709.9 386.4 L1710.3 387.8 L1710.9 389.2 L1711.4 390.7 L1711.2 392.1 L1710.5 393.5 L1710.2 394.9 L1709.8 396.3 L1710.3 397.7 L1710.2 399.2 L1710.6 400.6 L1709.9 402.0 L1710.2 403.4 L1710.1 404.8 L1709.9 406.2 L1709.8 407.6 L1709.9 409.1 L1709.9 410.5 L1710.7 411.9 L1710.7 413.3 L1710.0 414.7 L1710.7 416.1 L1710.8 417.5 L1711.4 419.0 L1710.7 420.4 L1710.5 421.8 L1710.3 423.2 L1710.6 424.6 L1710.9 426.0 L1710.8 427.5 L1710.5 428.9 L1710.9 430.3 L1710.8 431.7 L1710.8 433.1 L1710.2 434.5 L1710.7 435.9 L1710.2 437.4 L1710.2 438.8 L1710.7 440.2 L1711.7 441.6 L1711.4 443.0 L1710.8 444.4 L1710.6 445.8 L1711.2 447.3 L1711.5 448.7 L1711.5 450.1 L1710.8 451.5 L1710.8 452.9 L1710.6 454.3 L1710.6 455.8 L1710.3 457.2 L1710.5 458.6 L1709.6 460.0 L1709.9 461.4 L1710.8 462.8 L1710.3 464.2 L1711.0 465.6 L1710.2 467.0 L1710.5 468.4 L1710.9 469.8 L1710.3 471.2 L1710.4 472.6 L1712.0 474.0 L1710.7 475.4 L1710.5 476.8 L1710.5 478.2 L1710.8 479.6 L1710.8 481.0 L1711.4 482.4 L1711.4 483.8 L1710.8 485.2 L1710.7 486.6 L1710.2 488.0 L1710.0 489.4 L1710.4 490.8 L1711.2 492.2 L1711.0 493.6 L1711.4 495.0 L1711.5 496.4 L1711.0 497.8 L1712.0 499.2 L1710.9 500.6 L1710.7 502.0 L1710.7 503.4 L1711.5 504.8 L1711.0 506.2 L1710.6 507.7 L1711.2 509.1 L1711.6 510.5 L1711.1 511.9 L1710.9 513.3 L1711.6 514.7 L1711.6 516.1 L1711.6 517.5 L1710.8 518.9 L1711.2 520.3 L1711.3 521.7 L1710.2 523.1 L1711.5 524.5 L1711.2 525.9 L1711.0 527.3 L1712.2 528.7 L1711.4 530.1 L1710.8 531.5 L1711.1 532.9 L1711.4 534.3 L1711.6 535.7 L1711.2 537.1 L1710.8 538.5 L1710.8 539.9 L1710.7 541.3 L1710.6 542.7 L1711.1 544.1 L1710.9 545.5 L1711.2 546.9 L1710.8 548.3 L1710.7 549.7 L1711.0 551.1 L1711.0 552.5 L1711.9 553.9 L1711.1 555.3 L1711.6 556.7 L1711.7 558.2 L1711.1 559.6 L1712.1 561.0 L1712.1 562.4 L1711.1 563.8 L1712.3 565.2 L1712.8 566.6 L1712.1 568.0 L1713.3 569.5 L1712.9 570.9 L1712.2 572.3 L1713.1 573.7 L1712.8 575.1 L1712.4 576.5 L1712.0 577.9 L1713.2 579.3 L1713.0 580.8 L1713.8 582.2 L1713.9 583.6 L1713.5 585.0 L1713.6 586.5 L1714.9 587.9 L1715.2 589.4 L1714.9 590.9 L1714.4 592.4 L1714.1 593.8 L1714.5 595.3 L1715.7 596.8 L1715.5 598.2 L1715.2 599.7 L1714.7 601.2 L1715.5 602.6 L1715.2 604.1 L1715.7 605.6 L1716.3 607.1 L1716.7 608.5 L1716.4 610.0 L1716.2 611.4 L1716.5 612.9 L1717.4 614.3 L1716.9 615.8 L1716.0 617.2 L1717.3 618.7 L1717.0 620.1 L1718.6 621.5 L1717.0 623.0 L1716.9 624.4 L1716.8 625.9 L1717.2 627.3 L1716.9 628.8 L1716.4 630.2 L1716.2 631.6 L1717.0 633.1 L1717.1 634.5 L1717.1 636.0 L1718.5 637.4 L1718.2 638.8 L1718.3 640.3 L1717.6 641.7 L1717.9 643.2 L1717.8 644.6 L1717.8 646.1 L1718.3 647.5 L1718.4 648.9 L1718.4 650.4 L1718.3 651.8 L1717.6 653.3 L1717.9 654.7 L1718.5 656.2 L1718.4 657.6 L1718.2 659.0 L1718.8 660.5 L1718.3 661.9 L1718.4 663.4 L1719.3 664.8 L1718.9 666.2 L1719.8 667.7 L1719.5 669.1 L1719.7 670.6 L1720.0 672.0 L1718.4 673.5 L1719.2 674.9 L1718.9 676.3 L1719.2 677.8 L1719.6 679.2 L1720.4 680.7 L1719.9 682.1 L1720.8 683.6 L1719.9 685.0 L1720.1 686.5 L1720.3 688.0 L1720.9 689.5 L1720.7 691.0 L1720.5 692.5 L1720.6 693.9 L1720.2 695.4 L1721.6 696.8 L1721.7 698.3 L1721.6 699.7 L1721.6 701.2 L1721.3 702.6 L1721.4 704.0 L1722.1 705.5 L1721.6 706.9 L1721.6 708.4 L1722.8 709.8 L1723.2 711.2 L1722.7 712.7 L1722.8 714.1 L1722.8 715.6 L1723.4 717.0 L1722.8 718.5 L1723.0 719.9 L1723.3 721.3 L1723.9 722.8 L1723.3 724.2 L1723.5 725.7 L1723.3 727.1 L1723.3 728.6 L1723.4 730.0 L1723.8 731.4 L1724.4 732.9 L1723.8 734.3 L1723.8 735.7 L1724.0 737.1 L1724.4 738.6 L1724.8 740.0 L1724.0 741.4 L1724.7 742.9 L1724.2 744.3 L1725.1 745.7 L1724.5 747.1 L1724.4 748.6 L1724.6 750.0 L1725.1 751.4 L1724.8 752.9 L1725.4 754.3 L1725.5 755.7 L1725.6 757.1 L1725.8 758.6 L1726.2 760.0 L1725.4 761.4 L1725.6 762.9 L1725.6 764.3 L1724.5 765.7 L1725.5 767.1 L1725.0 768.6 L1724.9 770.0 L1725.0 771.4 L1725.3 772.9 L1725.4 774.3 L1725.4 775.7 L1724.8 777.1 L1725.3 778.6 L1725.3 780.0 L1724.9 781.4 L1725.0 782.9 L1725.5 784.3 L1725.4 785.7 L1725.6 787.1 L1725.3 788.6 L1725.8 790.0 L1726.5 791.4 L1725.8 792.9 L1724.7 794.3 L1726.1 795.7 L1725.3 797.1 L1724.8 798.6 L1724.2 800.0 L1725.7 801.4 L1726.6 802.9 L1726.9 804.3 L1726.6 805.7 L1727.6 807.1 L1727.3 808.6 L1727.2 810.0 L1727.8 811.4 L1728.2 812.9 L1728.4 814.3 L1728.8 815.7 L1727.9 817.1 L1729.8 818.6 L1729.3 820.0 L1729.8 821.5 L1729.2 822.9 L1729.6 824.4 L1729.5 825.9 L1728.9 827.4 L1729.7 828.8 L1730.0 830.3 L1729.3 831.8 L1728.6 833.2 L1729.3 834.7 L1729.3 836.2 L1729.8 837.6 L1729.9 839.1 L1730.7 840.6 L1730.4 842.1 L1729.9 843.5 L1730.1 845.0 L1728.7 846.4 L1729.4 847.9 L1729.6 849.3 L1730.1 850.8 L1730.4 852.2 L1730.5 853.7 L1730.9 855.1 L1730.3 856.6 L1730.7 858.0 L1730.6 859.5 L1730.7 860.9 L1730.9 862.4 L1730.7 863.8 L1731.0 865.3 L1731.0 866.7 L1731.5 868.2 L1731.2 869.6 L1731.3 871.1 L1732.5 872.5 L1731.9 874.0 L1731.8 875.4 L1732.1 876.9 L1731.2 878.4 L1731.9 879.9 L1732.1 881.3 L1732.1 882.8 L1732.4 884.3 L1732.4 885.7 L1732.7 887.2 L1731.9 888.7 L1732.3 890.1 L1732.0 891.6 L1732.8 893.1 L1732.5 894.6 L1731.8 896.0 L1732.4 897.5 L1732.0 898.9 L1732.9 900.4 L1732.4 901.8 L1731.4 903.3 L1732.1 904.7 L1732.9 906.2 L1732.7 907.6 L1732.2 909.0 L1732.8 910.5 L1732.8 911.9 L1733.3 913.4 L1733.1 914.8 L1732.8 916.2 L1732.2 917.7 L1732.6 919.1 L1732.7 920.6 L1732.5 922.0 L1732.7 923.5 L1732.0 924.9 L1732.7 926.3 L1732.5 927.8 L1732.7 929.2 L1732.5 930.7 L1732.4 932.1 L1732.6 933.6 L1732.9 935.0 L1732.4 936.4 L1732.6 937.9 L1732.2 939.3 L1732.6 940.7 L1732.5 942.1 L1731.9 943.6 L1732.9 945.0 L1732.2 946.4 L1732.5 947.9 L1731.9 949.3 L1731.5 950.7 L1732.6 952.1 L1731.8 953.6 L1731.4 955.0 L1732.2 956.4 L1731.7 957.9 L1732.2 959.3 L1733.3 960.7 L1732.5 962.1 L1732.7 963.6 L1732.8 965.0 L1732.7 966.4 L1732.5 967.9 L1733.2 969.3 L1732.6 970.7 L1732.7 972.1 L1732.6 973.6 L1731.9 975.0 L1732.5 976.4 L1732.5 977.9 L1732.8 979.3 L1732.9 980.7 L1733.3 982.1 L1731.8 983.6 L1732.1 985.0 L1732.2 986.4 L1732.0 987.9 L1732.6 989.3 L1732.4 990.7 L1732.5 992.1 L1731.6 993.6 L1731.8 995.0 L1732.2 996.4 L1732.1 997.9 L1732.0 999.3 L1732.2 1000.7 L1732.2 1002.1 L1731.8 1003.6 L1733.0 1005.0 L1732.1 1006.4 L1732.5 1007.9 L1732.6 1009.3 L1732.8 1010.7 L1732.1 1012.1 L1731.7 1013.6 L1732.3 1015.0 L1732.3 1016.4 L1731.1 1017.9 L1730.7 1019.3 L1731.6 1020.7 L1731.8 1022.1 L1731.9 1023.6 L1732.3 1025.0 L1731.7 1026.4 L1733.3 1027.9 L1732.7 1029.3 L1732.8 1030.7 L1732.3 1032.1 L1731.1 1033.6 L1731.9 1035.0 L1731.8 1036.4 L1732.3 1037.9 L1732.1 1039.3 L1732.5 1040.7 L1731.9 1042.1 L1732.1 1043.6 L1732.3 1045.0 L1732.0 1046.4 L1732.2 1047.9 L1732.7 1049.3 L1733.5 1050.7 L1732.7 1052.1 L1733.1 1053.6 L1732.2 1055.0 L1732.4 1056.4 L1732.9 1057.9 L1733.1 1059.3 L1732.5 1060.7 L1733.2 1062.1 L1733.1 1063.6 L1733.7 1065.0 L1733.7 1066.4 L1733.5 1067.9 L1733.1 1069.3 L1733.4 1070.7 L1732.9 1072.1 L1732.9 1073.6 L1732.4 1075.0 L1732.6 1076.4 L1732.7 1077.9 L1733.3 1079.3 L1733.6 1080.7 L1733.0 1082.1 L1733.5 1083.6 L1733.9 1085.0 L1734.2 1086.5 L1733.7 1087.9 L1733.7 1089.4 L1733.4 1090.9 L1733.9 1092.4 L1732.8 1093.8 L1733.4 1095.3 L1732.3 1096.8 L1733.9 1098.2 L1733.9 1099.7 L1732.4 1101.2 L1732.8 1102.6 L1732.4 1104.1 L1732.1 1105.6 L1732.7 1107.1 L1732.5 1108.5 L1733.4 1110.0 L1732.9 1111.4 L1732.6 1112.8 L1733.1 1114.2 L1733.5 1115.6 L1733.8 1117.0 L1733.8 1118.4 L1732.9 1119.8 L1733.1 1121.2 L1733.5 1122.7 L1733.3 1124.1 L1734.1 1125.5 L1733.8 1126.9 L1734.0 1128.3 L1733.9 1129.7 L1734.1 1131.1 L1733.5 1132.5 L1735.0 1133.9 L1733.9 1135.3 L1733.5 1136.7 L1732.9 1138.1 L1733.5 1139.5 L1732.9 1140.9 L1733.5 1142.3 L1733.9 1143.8 L1733.7 1145.2 L1733.0 1146.6 L1733.6 1148.0 L1733.0 1149.4 L1732.8 1150.8 L1732.7 1152.2 L1732.4 1153.6 L1732.6 1155.0 L1731.9 1156.5 L1731.5 1158.0 L1732.9 1159.5 L1732.2 1161.0 L1732.3 1162.5 L1732.6 1164.0 L1732.3 1165.5 L1731.9 1167.0 L1732.3 1168.5 L1732.0 1170.0 L1733.0 1171.4 L1732.9 1172.8 L1733.3 1174.2 L1734.1 1175.6 L1733.4 1177.0 L1733.5 1178.4 L1734.9 1179.8 L1735.6 1181.2 L1736.3 1182.8 L1736.9 1184.4 L1738.9 1185.9 L1739.8 1187.5 L1740.8 1189.3 L1740.2 1191.2 L1741.5 1193.0 L1740.5 1195.5" fill="none" stroke="#0000ff" stroke-width="1.80" stroke-linejoin="round"/>
</g>
<rect x="577" y="231.3" width="91.8" height="62.5" fill="#f2f3f8"/>
<text x="582.50" y="247.20" font-size="13.38" text-anchor="start" textLength="17.00" lengthAdjust="spacingAndGlyphs" fill="#000" stroke="#000" stroke-width="0.15" >LR</text>
<text x="599.80" y="248.70" font-size="8.74" font-family="'Liberation Sans', sans-serif" textLength="15.43" lengthAdjust="spacingAndGlyphs">355</text>
<text x="615.53" y="247.20" font-size="13.38" text-anchor="start" textLength="42.21" lengthAdjust="spacingAndGlyphs" fill="#000" stroke="#000" stroke-width="0.15" >: 50.00</text>
<text x="582.50" y="265.20" font-size="13.38" text-anchor="start" textLength="17.00" lengthAdjust="spacingAndGlyphs" fill="#000" stroke="#000" stroke-width="0.15" >LR</text>
<text x="599.80" y="266.70" font-size="8.74" font-family="'Liberation Sans', sans-serif" textLength="15.43" lengthAdjust="spacingAndGlyphs">532</text>
<text x="615.53" y="265.20" font-size="13.38" text-anchor="start" textLength="42.21" lengthAdjust="spacingAndGlyphs" fill="#000" stroke="#000" stroke-width="0.15" >: 50.00</text>
<text x="582.50" y="284.40" font-size="13.38" text-anchor="start" textLength="17.00" lengthAdjust="spacingAndGlyphs" fill="#000" stroke="#000" stroke-width="0.15" >LR</text>
<text x="599.80" y="285.90" font-size="8.74" font-family="'Liberation Sans', sans-serif" textLength="20.77" lengthAdjust="spacingAndGlyphs">1064</text>
<text x="620.87" y="284.40" font-size="13.38" text-anchor="start" textLength="42.21" lengthAdjust="spacingAndGlyphs" fill="#000" stroke="#000" stroke-width="0.15" >: 50.00</text>
<rect x="132.50" y="123.50" width="223.00" height="1075.00" fill="none" stroke="#000" stroke-width="1.1"/>
<line x1="126.40" y1="1198.00" x2="132.00" y2="1198.00" stroke="#000" stroke-width="2.00" />
<line x1="356.00" y1="1198.00" x2="361.60" y2="1198.00" stroke="#000" stroke-width="2.00" />
<text x="122.90" y="1204.50" font-size="18.34" text-anchor="end" textLength="9.86" lengthAdjust="spacingAndGlyphs" fill="#000" stroke="#000" stroke-width="0.12">0</text>
<line x1="126.40" y1="983.00" x2="132.00" y2="983.00" stroke="#000" stroke-width="2.00" />
<line x1="356.00" y1="983.00" x2="361.60" y2="983.00" stroke="#000" stroke-width="2.00" />
<text x="122.90" y="989.54" font-size="18.34" text-anchor="end" textLength="9.86" lengthAdjust="spacingAndGlyphs" fill="#000" stroke="#000" stroke-width="0.12">1</text>
<line x1="126.40" y1="768.00" x2="132.00" y2="768.00" stroke="#000" stroke-width="2.00" />
<line x1="356.00" y1="768.00" x2="361.60" y2="768.00" stroke="#000" stroke-width="2.00" />
<text x="122.90" y="774.58" font-size="18.34" text-anchor="end" textLength="9.86" lengthAdjust="spacingAndGlyphs" fill="#000" stroke="#000" stroke-width="0.12">2</text>
<line x1="126.40" y1="553.00" x2="132.00" y2="553.00" stroke="#000" stroke-width="2.00" />
<line x1="356.00" y1="553.00" x2="361.60" y2="553.00" stroke="#000" stroke-width="2.00" />
<text x="122.90" y="559.62" font-size="18.34" text-anchor="end" textLength="9.86" lengthAdjust="spacingAndGlyphs" fill="#000" stroke="#000" stroke-width="0.12">3</text>
<line x1="126.40" y1="338.00" x2="132.00" y2="338.00" stroke="#000" stroke-width="2.00" />
<line x1="356.00" y1="338.00" x2="361.60" y2="338.00" stroke="#000" stroke-width="2.00" />
<text x="122.90" y="344.66" font-size="18.34" text-anchor="end" textLength="9.86" lengthAdjust="spacingAndGlyphs" fill="#000" stroke="#000" stroke-width="0.12">4</text>
<line x1="126.40" y1="123.00" x2="132.00" y2="123.00" stroke="#000" stroke-width="2.00" />
<line x1="356.00" y1="123.00" x2="361.60" y2="123.00" stroke="#000" stroke-width="2.00" />
<text x="122.90" y="129.70" font-size="18.34" text-anchor="end" textLength="9.86" lengthAdjust="spacingAndGlyphs" fill="#000" stroke="#000" stroke-width="0.12">5</text>
<line x1="143.00" y1="1199.00" x2="143.00" y2="1204.60" stroke="#000" stroke-width="2.00" />
<text x="142.41" y="1219.80" font-size="18.34" text-anchor="middle" textLength="9.86" lengthAdjust="spacingAndGlyphs" fill="#000" stroke="#000" stroke-width="0.12">0</text>
<line x1="249.00" y1="1199.00" x2="249.00" y2="1204.60" stroke="#000" stroke-width="2.00" />
<text x="248.56" y="1219.80" font-size="18.34" text-anchor="middle" textLength="9.86" lengthAdjust="spacingAndGlyphs" fill="#000" stroke="#000" stroke-width="0.12">1</text>
<line x1="355.00" y1="1199.00" x2="355.00" y2="1204.60" stroke="#000" stroke-width="2.00" />
<text x="354.70" y="1219.80" font-size="18.34" text-anchor="middle" textLength="9.86" lengthAdjust="spacingAndGlyphs" fill="#000" stroke="#000" stroke-width="0.12">2</text>
<line x1="143.00" y1="123.00" x2="143.00" y2="117.40" stroke="#000" stroke-width="2.00" />
<line x1="249.00" y1="123.00" x2="249.00" y2="117.40" stroke="#000" stroke-width="2.00" />
<line x1="355.00" y1="123.00" x2="355.00" y2="117.40" stroke="#000" stroke-width="2.00" />
<rect x="448.50" y="123.50" width="222.00" height="1075.00" fill="none" stroke="#000" stroke-width="1.1"/>
<line x1="442.40" y1="1198.00" x2="448.00" y2="1198.00" stroke="#000" stroke-width="2.00" />
<line x1="671.00" y1="1198.00" x2="676.60" y2="1198.00" stroke="#000" stroke-width="2.00" />
<text x="438.90" y="1204.50" font-size="18.34" text-anchor="end" textLength="9.86" lengthAdjust="spacingAndGlyphs" fill="#000" stroke="#000" stroke-width="0.12">0</text>
<line x1="442.40" y1="983.00" x2="448.00" y2="983.00" stroke="#000" stroke-width="2.00" />
<line x1="671.00" y1="983.00" x2="676.60" y2="983.00" stroke="#000" stroke-width="2.00" />
<text x="438.90" y="989.54" font-size="18.34" text-anchor="end" textLength="9.86" lengthAdjust="spacingAndGlyphs" fill="#000" stroke="#000" stroke-width="0.12">1</text>
<line x1="442.40" y1="768.00" x2="448.00" y2="768.00" stroke="#000" stroke-width="2.00" />
<line x1="671.00" y1="768.00" x2="676.60" y2="768.00" stroke="#000" stroke-width="2.00" />
<text x="438.90" y="774.58" font-size="18.34" text-anchor="end" textLength="9.86" lengthAdjust="spacingAndGlyphs" fill="#000" stroke="#000" stroke-width="0.12">2</text>
<line x1="442.40" y1="553.00" x2="448.00" y2="553.00" stroke="#000" stroke-width="2.00" />
<line x1="671.00" y1="553.00" x2="676.60" y2="553.00" stroke="#000" stroke-width="2.00" />
<text x="438.90" y="559.62" font-size="18.34" text-anchor="end" textLength="9.86" lengthAdjust="spacingAndGlyphs" fill="#000" stroke="#000" stroke-width="0.12">3</text>
<line x1="442.40" y1="338.00" x2="448.00" y2="338.00" stroke="#000" stroke-width="2.00" />
<line x1="671.00" y1="338.00" x2="676.60" y2="338.00" stroke="#000" stroke-width="2.00" />
<text x="438.90" y="344.66" font-size="18.34" text-anchor="end" textLength="9.86" lengthAdjust="spacingAndGlyphs" fill="#000" stroke="#000" stroke-width="0.12">4</text>
<line x1="442.40" y1="123.00" x2="448.00" y2="123.00" stroke="#000" stroke-width="2.00" />
<line x1="671.00" y1="123.00" x2="676.60" y2="123.00" stroke="#000" stroke-width="2.00" />
<text x="438.90" y="129.70" font-size="18.34" text-anchor="end" textLength="9.86" lengthAdjust="spacingAndGlyphs" fill="#000" stroke="#000" stroke-width="0.12">5</text>
<line x1="452.00" y1="1199.00" x2="452.00" y2="1204.60" stroke="#000" stroke-width="2.00" />
<text x="451.53" y="1219.80" font-size="18.34" text-anchor="middle" textLength="9.86" lengthAdjust="spacingAndGlyphs" fill="#000" stroke="#000" stroke-width="0.12">0</text>
<line x1="539.00" y1="1199.00" x2="539.00" y2="1204.60" stroke="#000" stroke-width="2.00" />
<text x="539.24" y="1219.80" font-size="18.34" text-anchor="middle" textLength="19.73" lengthAdjust="spacingAndGlyphs" fill="#000" stroke="#000" stroke-width="0.12">20</text>
<line x1="627.00" y1="1199.00" x2="627.00" y2="1204.60" stroke="#000" stroke-width="2.00" />
<text x="626.65" y="1219.80" font-size="18.34" text-anchor="middle" textLength="19.73" lengthAdjust="spacingAndGlyphs" fill="#000" stroke="#000" stroke-width="0.12">40</text>
<line x1="452.00" y1="123.00" x2="452.00" y2="117.40" stroke="#000" stroke-width="2.00" />
<line x1="539.00" y1="123.00" x2="539.00" y2="117.40" stroke="#000" stroke-width="2.00" />
<line x1="627.00" y1="123.00" x2="627.00" y2="117.40" stroke="#000" stroke-width="2.00" />
<rect x="763.50" y="123.50" width="223.00" height="1075.00" fill="none" stroke="#000" stroke-width="1.1"/>
<line x1="757.40" y1="1198.00" x2="763.00" y2="1198.00" stroke="#000" stroke-width="2.00" />
<line x1="987.00" y1="1198.00" x2="992.60" y2="1198.00" stroke="#000" stroke-width="2.00" />
<text x="753.90" y="1204.50" font-size="18.34" text-anchor="end" textLength="9.86" lengthAdjust="spacingAndGlyphs" fill="#000" stroke="#000" stroke-width="0.12">0</text>
<line x1="757.40" y1="983.00" x2="763.00" y2="983.00" stroke="#000" stroke-width="2.00" />
<line x1="987.00" y1="983.00" x2="992.60" y2="983.00" stroke="#000" stroke-width="2.00" />
<text x="753.90" y="989.54" font-size="18.34" text-anchor="end" textLength="9.86" lengthAdjust="spacingAndGlyphs" fill="#000" stroke="#000" stroke-width="0.12">1</text>
<line x1="757.40" y1="768.00" x2="763.00" y2="768.00" stroke="#000" stroke-width="2.00" />
<line x1="987.00" y1="768.00" x2="992.60" y2="768.00" stroke="#000" stroke-width="2.00" />
<text x="753.90" y="774.58" font-size="18.34" text-anchor="end" textLength="9.86" lengthAdjust="spacingAndGlyphs" fill="#000" stroke="#000" stroke-width="0.12">2</text>
<line x1="757.40" y1="553.00" x2="763.00" y2="553.00" stroke="#000" stroke-width="2.00" />
<line x1="987.00" y1="553.00" x2="992.60" y2="553.00" stroke="#000" stroke-width="2.00" />
<text x="753.90" y="559.62" font-size="18.34" text-anchor="end" textLength="9.86" lengthAdjust="spacingAndGlyphs" fill="#000" stroke="#000" stroke-width="0.12">3</text>
<line x1="757.40" y1="338.00" x2="763.00" y2="338.00" stroke="#000" stroke-width="2.00" />
<line x1="987.00" y1="338.00" x2="992.60" y2="338.00" stroke="#000" stroke-width="2.00" />
<text x="753.90" y="344.66" font-size="18.34" text-anchor="end" textLength="9.86" lengthAdjust="spacingAndGlyphs" fill="#000" stroke="#000" stroke-width="0.12">4</text>
<line x1="757.40" y1="123.00" x2="763.00" y2="123.00" stroke="#000" stroke-width="2.00" />
<line x1="987.00" y1="123.00" x2="992.60" y2="123.00" stroke="#000" stroke-width="2.00" />
<text x="753.90" y="129.70" font-size="18.34" text-anchor="end" textLength="9.86" lengthAdjust="spacingAndGlyphs" fill="#000" stroke="#000" stroke-width="0.12">5</text>
<line x1="763.00" y1="1199.00" x2="763.00" y2="1204.60" stroke="#000" stroke-width="2.00" />
<text x="762.52" y="1219.80" font-size="18.34" text-anchor="middle" textLength="9.86" lengthAdjust="spacingAndGlyphs" fill="#000" stroke="#000" stroke-width="0.12">0</text>
<line x1="819.00" y1="1199.00" x2="819.00" y2="1204.60" stroke="#000" stroke-width="2.00" />
<text x="818.55" y="1219.80" font-size="18.34" text-anchor="middle" textLength="19.73" lengthAdjust="spacingAndGlyphs" fill="#000" stroke="#000" stroke-width="0.12">25</text>
<line x1="874.00" y1="1199.00" x2="874.00" y2="1204.60" stroke="#000" stroke-width="2.00" />
<text x="874.27" y="1219.80" font-size="18.34" text-anchor="middle" textLength="19.73" lengthAdjust="spacingAndGlyphs" fill="#000" stroke="#000" stroke-width="0.12">50</text>
<line x1="930.00" y1="1199.00" x2="930.00" y2="1204.60" stroke="#000" stroke-width="2.00" />
<text x="930.00" y="1219.80" font-size="18.34" text-anchor="middle" textLength="19.73" lengthAdjust="spacingAndGlyphs" fill="#000" stroke="#000" stroke-width="0.12">75</text>
<line x1="986.00" y1="1199.00" x2="986.00" y2="1204.60" stroke="#000" stroke-width="2.00" />
<text x="985.72" y="1219.80" font-size="18.34" text-anchor="middle" textLength="29.59" lengthAdjust="spacingAndGlyphs" fill="#000" stroke="#000" stroke-width="0.12">100</text>
<line x1="763.00" y1="123.00" x2="763.00" y2="117.40" stroke="#000" stroke-width="2.00" />
<line x1="819.00" y1="123.00" x2="819.00" y2="117.40" stroke="#000" stroke-width="2.00" />
<line x1="874.00" y1="123.00" x2="874.00" y2="117.40" stroke="#000" stroke-width="2.00" />
<line x1="930.00" y1="123.00" x2="930.00" y2="117.40" stroke="#000" stroke-width="2.00" />
<line x1="986.00" y1="123.00" x2="986.00" y2="117.40" stroke="#000" stroke-width="2.00" />
<rect x="1078.50" y="123.50" width="223.00" height="1075.00" fill="none" stroke="#000" stroke-width="1.1"/>
<line x1="1072.40" y1="1198.00" x2="1078.00" y2="1198.00" stroke="#000" stroke-width="2.00" />
<line x1="1302.00" y1="1198.00" x2="1307.60" y2="1198.00" stroke="#000" stroke-width="2.00" />
<text x="1068.90" y="1204.50" font-size="18.34" text-anchor="end" textLength="9.86" lengthAdjust="spacingAndGlyphs" fill="#000" stroke="#000" stroke-width="0.12">0</text>
<line x1="1072.40" y1="983.00" x2="1078.00" y2="983.00" stroke="#000" stroke-width="2.00" />
<line x1="1302.00" y1="983.00" x2="1307.60" y2="983.00" stroke="#000" stroke-width="2.00" />
<text x="1068.90" y="989.54" font-size="18.34" text-anchor="end" textLength="9.86" lengthAdjust="spacingAndGlyphs" fill="#000" stroke="#000" stroke-width="0.12">1</text>
<line x1="1072.40" y1="768.00" x2="1078.00" y2="768.00" stroke="#000" stroke-width="2.00" />
<line x1="1302.00" y1="768.00" x2="1307.60" y2="768.00" stroke="#000" stroke-width="2.00" />
<text x="1068.90" y="774.58" font-size="18.34" text-anchor="end" textLength="9.86" lengthAdjust="spacingAndGlyphs" fill="#000" stroke="#000" stroke-width="0.12">2</text>
<line x1="1072.40" y1="553.00" x2="1078.00" y2="553.00" stroke="#000" stroke-width="2.00" />
<line x1="1302.00" y1="553.00" x2="1307.60" y2="553.00" stroke="#000" stroke-width="2.00" />
<text x="1068.90" y="559.62" font-size="18.34" text-anchor="end" textLength="9.86" lengthAdjust="spacingAndGlyphs" fill="#000" stroke="#000" stroke-width="0.12">3</text>
<line x1="1072.40" y1="338.00" x2="1078.00" y2="338.00" stroke="#000" stroke-width="2.00" />
<line x1="1302.00" y1="338.00" x2="1307.60" y2="338.00" stroke="#000" stroke-width="2.00" />
<text x="1068.90" y="344.66" font-size="18.34" text-anchor="end" textLength="9.86" lengthAdjust="spacingAndGlyphs" fill="#000" stroke="#000" stroke-width="0.12">4</text>
<line x1="1072.40" y1="123.00" x2="1078.00" y2="123.00" stroke="#000" stroke-width="2.00" />
<line x1="1302.00" y1="123.00" x2="1307.60" y2="123.00" stroke="#000" stroke-width="2.00" />
<text x="1068.90" y="129.70" font-size="18.34" text-anchor="end" textLength="9.86" lengthAdjust="spacingAndGlyphs" fill="#000" stroke="#000" stroke-width="0.12">5</text>
<line x1="1078.00" y1="1199.00" x2="1078.00" y2="1204.60" stroke="#000" stroke-width="2.00" />
<text x="1078.18" y="1219.80" font-size="18.34" text-anchor="middle" textLength="22.85" lengthAdjust="spacingAndGlyphs" fill="#000" stroke="#000" stroke-width="0.12">−1</text>
<line x1="1134.00" y1="1199.00" x2="1134.00" y2="1204.60" stroke="#000" stroke-width="2.00" />
<text x="1133.60" y="1219.80" font-size="18.34" text-anchor="middle" textLength="9.86" lengthAdjust="spacingAndGlyphs" fill="#000" stroke="#000" stroke-width="0.12">0</text>
<line x1="1190.00" y1="1199.00" x2="1190.00" y2="1204.60" stroke="#000" stroke-width="2.00" />
<text x="1189.33" y="1219.80" font-size="18.34" text-anchor="middle" textLength="9.86" lengthAdjust="spacingAndGlyphs" fill="#000" stroke="#000" stroke-width="0.12">1</text>
<line x1="1245.00" y1="1199.00" x2="1245.00" y2="1204.60" stroke="#000" stroke-width="2.00" />
<text x="1245.05" y="1219.80" font-size="18.34" text-anchor="middle" textLength="9.86" lengthAdjust="spacingAndGlyphs" fill="#000" stroke="#000" stroke-width="0.12">2</text>
<line x1="1301.00" y1="1199.00" x2="1301.00" y2="1204.60" stroke="#000" stroke-width="2.00" />
<text x="1300.78" y="1219.80" font-size="18.34" text-anchor="middle" textLength="9.86" lengthAdjust="spacingAndGlyphs" fill="#000" stroke="#000" stroke-width="0.12">3</text>
<line x1="1078.00" y1="123.00" x2="1078.00" y2="117.40" stroke="#000" stroke-width="2.00" />
<line x1="1134.00" y1="123.00" x2="1134.00" y2="117.40" stroke="#000" stroke-width="2.00" />
<line x1="1190.00" y1="123.00" x2="1190.00" y2="117.40" stroke="#000" stroke-width="2.00" />
<line x1="1245.00" y1="123.00" x2="1245.00" y2="117.40" stroke="#000" stroke-width="2.00" />
<line x1="1301.00" y1="123.00" x2="1301.00" y2="117.40" stroke="#000" stroke-width="2.00" />
<rect x="1394.50" y="123.50" width="223.00" height="1075.00" fill="none" stroke="#000" stroke-width="1.1"/>
<line x1="1388.40" y1="1198.00" x2="1394.00" y2="1198.00" stroke="#000" stroke-width="2.00" />
<line x1="1618.00" y1="1198.00" x2="1623.60" y2="1198.00" stroke="#000" stroke-width="2.00" />
<text x="1384.90" y="1204.50" font-size="18.34" text-anchor="end" textLength="9.86" lengthAdjust="spacingAndGlyphs" fill="#000" stroke="#000" stroke-width="0.12">0</text>
<line x1="1388.40" y1="983.00" x2="1394.00" y2="983.00" stroke="#000" stroke-width="2.00" />
<line x1="1618.00" y1="983.00" x2="1623.60" y2="983.00" stroke="#000" stroke-width="2.00" />
<text x="1384.90" y="989.54" font-size="18.34" text-anchor="end" textLength="9.86" lengthAdjust="spacingAndGlyphs" fill="#000" stroke="#000" stroke-width="0.12">1</text>
<line x1="1388.40" y1="768.00" x2="1394.00" y2="768.00" stroke="#000" stroke-width="2.00" />
<line x1="1618.00" y1="768.00" x2="1623.60" y2="768.00" stroke="#000" stroke-width="2.00" />
<text x="1384.90" y="774.58" font-size="18.34" text-anchor="end" textLength="9.86" lengthAdjust="spacingAndGlyphs" fill="#000" stroke="#000" stroke-width="0.12">2</text>
<line x1="1388.40" y1="553.00" x2="1394.00" y2="553.00" stroke="#000" stroke-width="2.00" />
<line x1="1618.00" y1="553.00" x2="1623.60" y2="553.00" stroke="#000" stroke-width="2.00" />
<text x="1384.90" y="559.62" font-size="18.34" text-anchor="end" textLength="9.86" lengthAdjust="spacingAndGlyphs" fill="#000" stroke="#000" stroke-width="0.12">3</text>
<line x1="1388.40" y1="338.00" x2="1394.00" y2="338.00" stroke="#000" stroke-width="2.00" />
<line x1="1618.00" y1="338.00" x2="1623.60" y2="338.00" stroke="#000" stroke-width="2.00" />
<text x="1384.90" y="344.66" font-size="18.34" text-anchor="end" textLength="9.86" lengthAdjust="spacingAndGlyphs" fill="#000" stroke="#000" stroke-width="0.12">4</text>
<line x1="1388.40" y1="123.00" x2="1394.00" y2="123.00" stroke="#000" stroke-width="2.00" />
<line x1="1618.00" y1="123.00" x2="1623.60" y2="123.00" stroke="#000" stroke-width="2.00" />
<text x="1384.90" y="129.70" font-size="18.34" text-anchor="end" textLength="9.86" lengthAdjust="spacingAndGlyphs" fill="#000" stroke="#000" stroke-width="0.12">5</text>
<line x1="1394.00" y1="1199.00" x2="1394.00" y2="1204.60" stroke="#000" stroke-width="2.00" />
<text x="1393.54" y="1219.80" font-size="18.34" text-anchor="middle" textLength="24.66" lengthAdjust="spacingAndGlyphs" fill="#000" stroke="#000" stroke-width="0.12">0.0</text>
<line x1="1468.00" y1="1199.00" x2="1468.00" y2="1204.60" stroke="#000" stroke-width="2.00" />
<text x="1467.84" y="1219.80" font-size="18.34" text-anchor="middle" textLength="24.66" lengthAdjust="spacingAndGlyphs" fill="#000" stroke="#000" stroke-width="0.12">0.1</text>
<line x1="1542.00" y1="1199.00" x2="1542.00" y2="1204.60" stroke="#000" stroke-width="2.00" />
<text x="1542.14" y="1219.80" font-size="18.34" text-anchor="middle" textLength="24.66" lengthAdjust="spacingAndGlyphs" fill="#000" stroke="#000" stroke-width="0.12">0.2</text>
<line x1="1617.00" y1="1199.00" x2="1617.00" y2="1204.60" stroke="#000" stroke-width="2.00" />
<text x="1616.44" y="1219.80" font-size="18.34" text-anchor="middle" textLength="24.66" lengthAdjust="spacingAndGlyphs" fill="#000" stroke="#000" stroke-width="0.12">0.3</text>
<line x1="1394.00" y1="123.00" x2="1394.00" y2="117.40" stroke="#000" stroke-width="2.00" />
<line x1="1468.00" y1="123.00" x2="1468.00" y2="117.40" stroke="#000" stroke-width="2.00" />
<line x1="1542.00" y1="123.00" x2="1542.00" y2="117.40" stroke="#000" stroke-width="2.00" />
<line x1="1617.00" y1="123.00" x2="1617.00" y2="117.40" stroke="#000" stroke-width="2.00" />
<rect x="1709.50" y="123.50" width="223.00" height="1075.00" fill="none" stroke="#000" stroke-width="1.1"/>
<line x1="1703.40" y1="1198.00" x2="1709.00" y2="1198.00" stroke="#000" stroke-width="2.00" />
<line x1="1933.00" y1="1198.00" x2="1938.60" y2="1198.00" stroke="#000" stroke-width="2.00" />
<text x="1699.90" y="1204.50" font-size="18.34" text-anchor="end" textLength="9.86" lengthAdjust="spacingAndGlyphs" fill="#000" stroke="#000" stroke-width="0.12">0</text>
<line x1="1703.40" y1="983.00" x2="1709.00" y2="983.00" stroke="#000" stroke-width="2.00" />
<line x1="1933.00" y1="983.00" x2="1938.60" y2="983.00" stroke="#000" stroke-width="2.00" />
<text x="1699.90" y="989.54" font-size="18.34" text-anchor="end" textLength="9.86" lengthAdjust="spacingAndGlyphs" fill="#000" stroke="#000" stroke-width="0.12">1</text>
<line x1="1703.40" y1="768.00" x2="1709.00" y2="768.00" stroke="#000" stroke-width="2.00" />
<line x1="1933.00" y1="768.00" x2="1938.60" y2="768.00" stroke="#000" stroke-width="2.00" />
<text x="1699.90" y="774.58" font-size="18.34" text-anchor="end" textLength="9.86" lengthAdjust="spacingAndGlyphs" fill="#000" stroke="#000" stroke-width="0.12">2</text>
<line x1="1703.40" y1="553.00" x2="1709.00" y2="553.00" stroke="#000" stroke-width="2.00" />
<line x1="1933.00" y1="553.00" x2="1938.60" y2="553.00" stroke="#000" stroke-width="2.00" />
<text x="1699.90" y="559.62" font-size="18.34" text-anchor="end" textLength="9.86" lengthAdjust="spacingAndGlyphs" fill="#000" stroke="#000" stroke-width="0.12">3</text>
<line x1="1703.40" y1="338.00" x2="1709.00" y2="338.00" stroke="#000" stroke-width="2.00" />
<line x1="1933.00" y1="338.00" x2="1938.60" y2="338.00" stroke="#000" stroke-width="2.00" />
<text x="1699.90" y="344.66" font-size="18.34" text-anchor="end" textLength="9.86" lengthAdjust="spacingAndGlyphs" fill="#000" stroke="#000" stroke-width="0.12">4</text>
<line x1="1703.40" y1="123.00" x2="1709.00" y2="123.00" stroke="#000" stroke-width="2.00" />
<line x1="1933.00" y1="123.00" x2="1938.60" y2="123.00" stroke="#000" stroke-width="2.00" />
<text x="1699.90" y="129.70" font-size="18.34" text-anchor="end" textLength="9.86" lengthAdjust="spacingAndGlyphs" fill="#000" stroke="#000" stroke-width="0.12">5</text>
<line x1="1709.00" y1="1199.00" x2="1709.00" y2="1204.60" stroke="#000" stroke-width="2.00" />
<text x="1708.60" y="1219.80" font-size="18.34" text-anchor="middle" textLength="9.86" lengthAdjust="spacingAndGlyphs" fill="#000" stroke="#000" stroke-width="0.12">0</text>
<line x1="1798.00" y1="1199.00" x2="1798.00" y2="1204.60" stroke="#000" stroke-width="2.00" />
<text x="1798.06" y="1219.80" font-size="18.34" text-anchor="middle" textLength="19.73" lengthAdjust="spacingAndGlyphs" fill="#000" stroke="#000" stroke-width="0.12">20</text>
<line x1="1887.00" y1="1199.00" x2="1887.00" y2="1204.60" stroke="#000" stroke-width="2.00" />
<text x="1887.22" y="1219.80" font-size="18.34" text-anchor="middle" textLength="19.73" lengthAdjust="spacingAndGlyphs" fill="#000" stroke="#000" stroke-width="0.12">40</text>
<line x1="1709.00" y1="123.00" x2="1709.00" y2="117.40" stroke="#000" stroke-width="2.00" />
<line x1="1765.00" y1="123.00" x2="1765.00" y2="117.40" stroke="#000" stroke-width="2.00" />
<line x1="1820.00" y1="123.00" x2="1820.00" y2="117.40" stroke="#000" stroke-width="2.00" />
<line x1="1876.00" y1="123.00" x2="1876.00" y2="117.40" stroke="#000" stroke-width="2.00" />
<line x1="1932.00" y1="123.00" x2="1932.00" y2="117.40" stroke="#000" stroke-width="2.00" />
<text x="1708.60" y="110.00" font-size="18.34" text-anchor="middle" textLength="9.86" lengthAdjust="spacingAndGlyphs" fill="#000" stroke="#000" stroke-width="0.12">0</text>
<text x="1764.63" y="110.00" font-size="18.34" text-anchor="middle" textLength="19.73" lengthAdjust="spacingAndGlyphs" fill="#000" stroke="#000" stroke-width="0.12">25</text>
<text x="1820.35" y="110.00" font-size="18.34" text-anchor="middle" textLength="19.73" lengthAdjust="spacingAndGlyphs" fill="#000" stroke="#000" stroke-width="0.12">50</text>
<text x="1876.08" y="110.00" font-size="18.34" text-anchor="middle" textLength="19.73" lengthAdjust="spacingAndGlyphs" fill="#000" stroke="#000" stroke-width="0.12">75</text>
<text x="1931.80" y="110.00" font-size="18.34" text-anchor="middle" textLength="29.59" lengthAdjust="spacingAndGlyphs" fill="#000" stroke="#000" stroke-width="0.12">100</text>
<rect x="134.00" y="131.40" width="213.60" height="227.50" rx="3.5" ry="3.5" fill="#fff" fill-opacity="0.8" stroke="#ccc" stroke-opacity="0.8" stroke-width="1.1"/>
<line x1="138.30" y1="145.00" x2="170.80" y2="145.00" stroke="#0000ff" stroke-width="1.75" />
<text x="183.20" y="150.60" font-size="17.04" text-anchor="start" textLength="147.38" lengthAdjust="spacingAndGlyphs" fill="#000" stroke="#000" stroke-width="0.19" >aerBsc_raman_355</text>
<line x1="138.30" y1="169.78" x2="170.80" y2="169.78" stroke="#008000" stroke-width="1.75" />
<text x="183.20" y="175.38" font-size="17.04" text-anchor="start" textLength="147.38" lengthAdjust="spacingAndGlyphs" fill="#000" stroke="#000" stroke-width="0.19" >aerBsc_raman_532</text>
<line x1="138.30" y1="194.56" x2="170.80" y2="194.56" stroke="#ff0000" stroke-width="1.75" />
<text x="183.20" y="200.16" font-size="17.04" text-anchor="start" textLength="157.11" lengthAdjust="spacingAndGlyphs" fill="#000" stroke="#000" stroke-width="0.19" >aerBsc_raman_1064</text>
<line x1="139.10" y1="219.34" x2="170.00" y2="219.34" stroke="#800080" stroke-width="1.75" stroke-dasharray="6.2 2.7"/>
<text x="183.20" y="224.94" font-size="17.04" text-anchor="start" textLength="120.54" lengthAdjust="spacingAndGlyphs" fill="#000" stroke="#000" stroke-width="0.19" >aerBsc_RR_355</text>
<line x1="139.10" y1="244.12" x2="170.00" y2="244.12" stroke="#808000" stroke-width="1.75" stroke-dasharray="6.2 2.7"/>
<text x="183.20" y="249.72" font-size="17.04" text-anchor="start" textLength="120.54" lengthAdjust="spacingAndGlyphs" fill="#000" stroke="#000" stroke-width="0.19" >aerBsc_RR_532</text>
<line x1="139.10" y1="268.90" x2="170.00" y2="268.90" stroke="#ffa07a" stroke-width="1.75" stroke-dasharray="6.2 2.7"/>
<text x="183.20" y="274.50" font-size="17.04" text-anchor="start" textLength="130.26" lengthAdjust="spacingAndGlyphs" fill="#000" stroke="#000" stroke-width="0.19" >aerBsc_RR_1064</text>
<line x1="138.30" y1="293.68" x2="170.80" y2="293.68" stroke="#00ffff" stroke-width="1.75" />
<text x="183.20" y="299.28" font-size="17.04" text-anchor="start" textLength="133.00" lengthAdjust="spacingAndGlyphs" fill="#000" stroke="#000" stroke-width="0.19" >aerBsc_klett_355</text>
<line x1="138.30" y1="318.46" x2="170.80" y2="318.46" stroke="#00ff00" stroke-width="1.75" />
<text x="183.20" y="324.06" font-size="17.04" text-anchor="start" textLength="133.00" lengthAdjust="spacingAndGlyphs" fill="#000" stroke="#000" stroke-width="0.19" >aerBsc_klett_532</text>
<line x1="138.30" y1="343.24" x2="170.80" y2="343.24" stroke="#fa8072" stroke-width="1.75" />
<text x="183.20" y="348.84" font-size="17.04" text-anchor="start" textLength="142.72" lengthAdjust="spacingAndGlyphs" fill="#000" stroke="#000" stroke-width="0.19" >aerBsc_klett_1064</text>
<rect x="422.60" y="131.40" width="240.60" height="227.50" rx="3.5" ry="3.5" fill="#fff" fill-opacity="0.8" stroke="#ccc" stroke-opacity="0.8" stroke-width="1.1"/>
<line x1="428.30" y1="145.00" x2="460.80" y2="145.00" stroke="#0000ff" stroke-width="1.75" />
<text x="473.00" y="150.60" font-size="17.04" text-anchor="start" textLength="145.67" lengthAdjust="spacingAndGlyphs" fill="#000" stroke="#000" stroke-width="0.19" >aerExt_raman_355</text>
<line x1="428.30" y1="169.78" x2="460.80" y2="169.78" stroke="#008000" stroke-width="1.75" />
<text x="473.00" y="175.38" font-size="17.04" text-anchor="start" textLength="145.67" lengthAdjust="spacingAndGlyphs" fill="#000" stroke="#000" stroke-width="0.19" >aerExt_raman_532</text>
<line x1="428.30" y1="194.56" x2="460.80" y2="194.56" stroke="#ff0000" stroke-width="1.75" />
<text x="473.00" y="200.16" font-size="17.04" text-anchor="start" textLength="155.39" lengthAdjust="spacingAndGlyphs" fill="#000" stroke="#000" stroke-width="0.19" >aerExt_raman_1064</text>
<line x1="429.10" y1="219.34" x2="460.00" y2="219.34" stroke="#800080" stroke-width="1.75" stroke-dasharray="6.2 2.7"/>
<text x="473.00" y="224.94" font-size="17.04" text-anchor="start" textLength="118.82" lengthAdjust="spacingAndGlyphs" fill="#000" stroke="#000" stroke-width="0.19" >aerExt_RR_355</text>
<line x1="429.10" y1="244.12" x2="460.00" y2="244.12" stroke="#808000" stroke-width="1.75" stroke-dasharray="6.2 2.7"/>
<text x="473.00" y="249.72" font-size="17.04" text-anchor="start" textLength="118.82" lengthAdjust="spacingAndGlyphs" fill="#000" stroke="#000" stroke-width="0.19" >aerExt_RR_532</text>
<line x1="429.10" y1="268.90" x2="460.00" y2="268.90" stroke="#ffa07a" stroke-width="1.75" stroke-dasharray="6.2 2.7"/>
<text x="473.00" y="274.50" font-size="17.04" text-anchor="start" textLength="128.55" lengthAdjust="spacingAndGlyphs" fill="#000" stroke="#000" stroke-width="0.19" >aerExt_RR_1064</text>
<line x1="428.30" y1="293.68" x2="460.80" y2="293.68" stroke="#00ffff" stroke-width="1.75" />
<text x="473.00" y="299.28" font-size="17.04" text-anchor="start" textLength="172.98" lengthAdjust="spacingAndGlyphs" fill="#000" stroke="#000" stroke-width="0.19" >aerBsc_klett_355 x LR</text>
<line x1="428.30" y1="318.46" x2="460.80" y2="318.46" stroke="#00ff00" stroke-width="1.75" />
<text x="473.00" y="324.06" font-size="17.04" text-anchor="start" textLength="172.98" lengthAdjust="spacingAndGlyphs" fill="#000" stroke="#000" stroke-width="0.19" >aerBsc_klett_532 x LR</text>
<line x1="428.30" y1="343.24" x2="460.80" y2="343.24" stroke="#fa8072" stroke-width="1.75" />
<text x="473.00" y="348.84" font-size="17.04" text-anchor="start" textLength="182.70" lengthAdjust="spacingAndGlyphs" fill="#000" stroke="#000" stroke-width="0.19" >aerBsc_klett_1064 x LR</text>
<rect x="770.40" y="131.40" width="208.00" height="153.80" rx="3.5" ry="3.5" fill="#fff" fill-opacity="0.8" stroke="#ccc" stroke-opacity="0.8" stroke-width="1.1"/>
<line x1="775.30" y1="145.00" x2="807.80" y2="145.00" stroke="#0000ff" stroke-width="1.75" />
<text x="820.00" y="150.60" font-size="17.04" text-anchor="start" textLength="141.41" lengthAdjust="spacingAndGlyphs" fill="#000" stroke="#000" stroke-width="0.19" >aerLR_raman_355</text>
<line x1="775.30" y1="169.78" x2="807.80" y2="169.78" stroke="#008000" stroke-width="1.75" />
<text x="820.00" y="175.38" font-size="17.04" text-anchor="start" textLength="141.41" lengthAdjust="spacingAndGlyphs" fill="#000" stroke="#000" stroke-width="0.19" >aerLR_raman_532</text>
<line x1="775.30" y1="194.56" x2="807.80" y2="194.56" stroke="#ff0000" stroke-width="1.75" />
<text x="820.00" y="200.16" font-size="17.04" text-anchor="start" textLength="151.13" lengthAdjust="spacingAndGlyphs" fill="#000" stroke="#000" stroke-width="0.19" >aerLR_raman_1064</text>
<line x1="776.10" y1="219.34" x2="807.00" y2="219.34" stroke="#800080" stroke-width="1.75" stroke-dasharray="6.2 2.7"/>
<text x="820.00" y="224.94" font-size="17.04" text-anchor="start" textLength="114.56" lengthAdjust="spacingAndGlyphs" fill="#000" stroke="#000" stroke-width="0.19" >aerLR_RR_355</text>
<line x1="776.10" y1="244.12" x2="807.00" y2="244.12" stroke="#808000" stroke-width="1.75" stroke-dasharray="6.2 2.7"/>
<text x="820.00" y="249.72" font-size="17.04" text-anchor="start" textLength="114.56" lengthAdjust="spacingAndGlyphs" fill="#000" stroke="#000" stroke-width="0.19" >aerLR_RR_532</text>
<line x1="776.10" y1="268.90" x2="807.00" y2="268.90" stroke="#ffa07a" stroke-width="1.75" stroke-dasharray="6.2 2.7"/>
<text x="820.00" y="274.50" font-size="17.04" text-anchor="start" textLength="124.28" lengthAdjust="spacingAndGlyphs" fill="#000" stroke="#000" stroke-width="0.19" >aerLR_RR_1064</text>
<rect x="1017.60" y="131.40" width="275.80" height="79.00" rx="3.5" ry="3.5" fill="#fff" fill-opacity="0.8" stroke="#ccc" stroke-opacity="0.8" stroke-width="1.1"/>
<line x1="1023.30" y1="145.00" x2="1055.80" y2="145.00" stroke="#ffa500" stroke-width="1.75" />
<text x="1068.00" y="150.60" font-size="17.04" text-anchor="start" textLength="199.56" lengthAdjust="spacingAndGlyphs" fill="#000" stroke="#000" stroke-width="0.19" >AE_beta_355_532_Raman</text>
<line x1="1023.30" y1="169.78" x2="1055.80" y2="169.78" stroke="#ff00ff" stroke-width="1.75" />
<text x="1068.00" y="175.38" font-size="17.04" text-anchor="start" textLength="209.28" lengthAdjust="spacingAndGlyphs" fill="#000" stroke="#000" stroke-width="0.19" >AE_beta_532_1064_Raman</text>
<line x1="1023.30" y1="194.56" x2="1055.80" y2="194.56" stroke="#000000" stroke-width="1.75" />
<text x="1068.00" y="200.16" font-size="17.04" text-anchor="start" textLength="217.59" lengthAdjust="spacingAndGlyphs" fill="#000" stroke="#000" stroke-width="0.19" >AE_parExt_355_532_Raman</text>
<rect x="1376.60" y="131.40" width="232.80" height="153.80" rx="3.5" ry="3.5" fill="#fff" fill-opacity="0.8" stroke="#ccc" stroke-opacity="0.8" stroke-width="1.1"/>
<line x1="1381.30" y1="145.00" x2="1413.80" y2="145.00" stroke="#0000ff" stroke-width="1.75" />
<text x="1426.00" y="150.60" font-size="17.04" text-anchor="start" textLength="165.66" lengthAdjust="spacingAndGlyphs" fill="#000" stroke="#000" stroke-width="0.19" >parDepol_raman_355</text>
<line x1="1381.30" y1="169.78" x2="1413.80" y2="169.78" stroke="#008000" stroke-width="1.75" />
<text x="1426.00" y="175.38" font-size="17.04" text-anchor="start" textLength="165.66" lengthAdjust="spacingAndGlyphs" fill="#000" stroke="#000" stroke-width="0.19" >parDepol_raman_532</text>
<line x1="1381.30" y1="194.56" x2="1413.80" y2="194.56" stroke="#ff0000" stroke-width="1.75" />
<text x="1426.00" y="200.16" font-size="17.04" text-anchor="start" textLength="175.38" lengthAdjust="spacingAndGlyphs" fill="#000" stroke="#000" stroke-width="0.19" >parDepol_raman_1064</text>
<line x1="1381.30" y1="219.34" x2="1413.80" y2="219.34" stroke="#00ffff" stroke-width="1.75" />
<text x="1426.00" y="224.94" font-size="17.04" text-anchor="start" textLength="151.27" lengthAdjust="spacingAndGlyphs" fill="#000" stroke="#000" stroke-width="0.19" >parDepol_klett_355</text>
<line x1="1381.30" y1="244.12" x2="1413.80" y2="244.12" stroke="#00ff00" stroke-width="1.75" />
<text x="1426.00" y="249.72" font-size="17.04" text-anchor="start" textLength="151.27" lengthAdjust="spacingAndGlyphs" fill="#000" stroke="#000" stroke-width="0.19" >parDepol_klett_532</text>
<line x1="1381.30" y1="268.90" x2="1413.80" y2="268.90" stroke="#fa8072" stroke-width="1.75" />
<text x="1426.00" y="274.50" font-size="17.04" text-anchor="start" textLength="160.99" lengthAdjust="spacingAndGlyphs" fill="#000" stroke="#000" stroke-width="0.19" >parDepol_klett_1064</text>
<rect x="1814.60" y="131.40" width="109.80" height="29.80" rx="3.5" ry="3.5" fill="#fff" fill-opacity="0.8" stroke="#ccc" stroke-opacity="0.8" stroke-width="1.1"/>
<line x1="1819.80" y1="145.00" x2="1852.30" y2="145.00" stroke="#0000ff" stroke-width="1.75" />
<text x="1864.50" y="150.60" font-size="17.04" text-anchor="start" textLength="53.89" lengthAdjust="spacingAndGlyphs" fill="#000" stroke="#000" stroke-width="0.19" >WVMR</text>
<g clip-path="url(#c5)">
<path d="M1800.0 123.2 L1777.5 127.0 L1812.5 132.5 L1798.8 134.2 L1858.8 137.0 L1752.5 139.5 L1810.0 142.0 L1770.0 146.2 L1800.0 145.0 L1777.5 149.5 L1790.0 153.0 L1818.0 155.0 L1760.0 158.8 L1755.0 161.2 L1770.0 165.0 L1745.0 167.0 L1785.0 169.2 L1728.8 172.5 L1768.8 175.5 L1745.0 177.5 L1786.2 180.8 L1735.0 183.2 L1762.5 187.5 L1752.5 192.5 L1769.2 196.2 L1727.0 199.5 L1763.8 202.0 L1786.2 204.5 L1755.0 207.5 L1738.8 210.0 L1750.0 212.5 L1742.5 217.0 L1718.8 218.8 L1753.8 222.5 L1723.8 224.2 L1760.0 230.5 L1728.8 233.0 L1750.0 237.5 L1735.0 242.5 L1750.0 245.0 L1721.2 247.5 L1745.0 252.5 L1720.0 254.5 L1723.8 260.0 L1742.5 265.0 L1790.0 268.8 L1730.0 272.5 L1760.0 273.8 L1721.2 275.5 L1742.5 278.8 L1767.5 281.8 L1740.0 283.8 L1753.8 290.0 L1742.5 295.0 L1726.2 299.5 L1753.8 301.2 L1740.0 306.2 L1755.0 310.0 L1727.5 313.8 L1746.2 322.5 L1725.5 325.0 L1748.8 329.5 L1720.0 336.2 L1751.2 339.5 L1726.2 345.0 L1715.0 350.0 L1732.5 355.0 L1716.2 358.8 L1725.5 368.8 L1717.5 371.2" fill="none" stroke="#008000" stroke-width="1.80" stroke-linejoin="round"/>
<path d="M1710.1 372.0 L1723.1 373.5 L1731.3 375.0 L1729.3 376.5 L1730.6 378.0 L1725.2 379.8 L1716.3 381.5 L1720.4 382.9 L1710.5 384.3 L1711.3 385.8 L1722.1 387.2 L1722.1 388.6 L1728.4 390.0 L1725.7 391.4 L1720.5 392.9 L1719.7 394.3 L1733.3 395.7 L1719.6 397.1 L1717.2 398.6 L1715.5 400.0 L1721.9 401.4 L1722.6 402.9 L1720.6 404.3 L1722.4 405.7 L1724.5 407.1 L1726.9 408.6 L1729.3 410.0 L1725.3 411.5 L1716.0 413.0 L1728.3 414.5 L1718.4 416.0 L1724.7 417.5 L1718.7 419.0 L1726.1 420.5 L1722.7 422.0 L1727.7 423.5 L1742.8 425.0 L1726.8 426.5 L1731.0 428.0 L1720.6 429.5 L1725.6 431.0 L1730.2 432.5 L1726.6 434.0 L1728.8 435.5 L1727.5 437.0 L1722.2 438.5 L1729.7 440.0 L1723.4 441.5 L1736.6 443.0 L1725.5 444.5 L1731.5 446.0 L1728.5 447.5 L1733.4 449.0 L1726.2 450.5 L1734.2 452.0 L1729.1 453.5 L1736.1 455.0 L1733.1 456.4 L1730.9 457.9 L1726.6 459.3 L1734.1 460.8 L1732.8 462.2 L1738.5 463.7 L1729.0 465.1 L1733.6 466.6 L1733.4 468.0 L1739.1 469.5 L1745.5 471.0 L1752.1 472.5 L1755.1 474.0 L1748.4 475.5 L1746.6 477.0 L1746.6 478.5 L1746.3 480.0 L1743.7 481.4 L1744.1 482.9 L1742.7 484.3 L1742.4 485.7 L1739.9 487.1 L1742.7 488.6 L1747.5 490.0 L1737.2 491.5 L1735.3 493.0 L1747.8 494.5 L1739.4 496.0 L1742.7 497.5 L1742.0 499.0 L1732.1 500.5 L1749.1 502.0 L1745.7 503.5 L1737.8 505.0 L1740.6 506.5 L1737.5 507.9 L1732.6 509.4 L1736.2 510.9 L1738.5 512.4 L1742.0 513.8 L1740.0 515.3 L1736.8 516.8 L1743.0 518.2 L1732.8 519.7 L1740.2 521.2 L1741.6 522.6 L1734.8 524.1 L1727.6 525.6 L1731.8 527.1 L1737.2 528.5 L1738.5 530.0 L1743.5 531.4 L1731.3 532.9 L1736.2 534.3 L1739.4 535.7 L1735.6 537.1 L1725.1 538.6 L1740.4 540.0 L1747.7 541.4 L1741.5 542.9 L1732.3 544.3 L1734.8 545.7 L1737.9 547.1 L1748.9 548.6 L1740.0 550.0 L1739.5 551.5 L1748.5 553.0 L1738.6 554.7 L1745.9 556.3 L1735.0 558.0 L1729.2 558.0 L1737.5 559.5 L1738.2 561.0 L1739.3 562.5 L1747.2 564.0 L1746.3 565.5 L1746.7 567.0 L1757.0 568.5 L1750.7 570.0 L1748.9 571.7 L1750.3 573.3 L1755.8 575.0 L1763.0 576.7 L1766.5 578.3 L1770.0 580.0 L1774.1 581.7 L1775.1 583.3 L1772.0 585.0 L1775.5 586.7 L1774.2 588.3 L1770.2 590.0 L1778.6 591.8 L1779.3 593.5 L1781.2 595.2 L1793.3 597.0 L1792.8 598.7 L1791.0 600.3 L1795.8 602.0 L1805.0 603.7 L1794.8 605.3 L1797.2 607.0 L1796.4 608.7 L1795.3 610.3 L1794.9 612.0 L1790.5 613.6 L1790.2 615.2 L1791.4 616.9 L1790.7 618.5 L1795.4 620.1 L1798.9 621.8 L1789.3 623.4 L1794.2 625.0 L1790.9 626.8 L1794.0 628.5 L1798.5 630.2 L1802.6 632.0 L1801.7 633.6 L1793.9 635.2 L1810.6 636.9 L1806.6 638.5 L1805.8 640.1 L1812.3 641.8 L1808.8 643.4 L1806.2 645.0 L1815.0 646.7 L1816.8 648.3 L1813.1 650.0 L1820.7 651.7 L1820.8 653.3 L1815.8 655.0 L1828.1 656.7 L1824.3 658.3 L1819.3 660.0 L1826.3 661.7 L1826.7 663.3 L1831.3 665.0 L1822.1 666.7 L1831.0 668.3 L1831.5 670.0 L1830.5 671.7 L1830.1 673.3 L1832.9 675.0 L1831.5 676.5 L1829.7 678.0 L1826.3 679.5 L1834.7 681.0 L1835.7 682.5 L1833.7 684.0 L1833.6 685.5 L1836.7 687.0 L1824.5 688.5 L1835.5 690.0 L1826.6 691.8 L1838.2 693.5 L1844.1 695.2 L1849.4 697.0 L1842.1 698.6 L1846.9 700.2 L1847.1 701.8 L1840.1 703.4 L1853.3 705.0 L1852.0 706.5 L1852.7 708.0 L1849.2 709.5 L1853.1 711.0 L1854.5 712.5 L1860.1 714.0 L1857.1 715.5 L1870.5 717.0 L1856.4 718.5 L1856.1 720.0 L1858.6 721.7 L1857.2 723.3 L1868.1 725.0 L1867.1 726.7 L1860.7 728.3 L1867.2 730.0 L1873.2 731.8 L1864.4 733.5 L1871.0 735.2 L1871.3 737.0 L1883.3 738.6 L1878.1 740.2 L1875.6 741.8 L1876.2 743.4 L1887.7 745.0 L1879.1 746.8 L1889.4 748.5 L1874.7 750.2 L1878.9 752.0 L1881.3 753.6 L1881.6 755.2 L1885.6 756.8 L1891.7 758.4 L1888.8 760.0 L1884.7 761.6 L1895.3 763.2 L1896.5 764.8 L1887.4 766.4 L1890.2 768.0 L1875.8 769.8 L1886.4 771.5 L1875.1 773.2 L1874.4 775.0 L1884.9 776.7 L1871.2 778.3 L1874.4 780.0 L1869.5 781.7 L1865.0 783.3 L1866.6 785.0 L1872.6 786.6 L1866.7 788.2 L1868.9 789.9 L1874.4 791.5 L1871.2 793.1 L1866.1 794.8 L1876.9 796.4 L1872.3 798.0 L1879.8 799.8 L1873.0 801.5 L1886.0 803.2 L1877.4 805.0 L1877.8 806.8 L1886.2 808.5 L1890.2 810.2 L1896.1 812.0 L1895.8 813.5 L1903.1 815.0 L1909.1 816.5 L1904.1 818.0 L1902.4 819.8 L1908.0 821.5 L1915.3 823.2 L1917.9 825.0 L1912.8 826.7 L1909.4 828.3 L1912.7 830.0 L1916.8 831.7 L1910.0 833.3 L1917.3 835.0 L1912.6 836.7 L1911.5 838.3 L1906.8 840.0 L1913.5 841.7 L1907.9 843.3 L1900.2 845.0 L1909.6 846.7 L1906.1 848.3 L1912.5 850.0 L1910.0 851.7 L1907.1 853.3 L1910.7 855.0 L1907.9 856.5 L1906.0 858.1 L1909.0 859.6 L1912.3 861.2 L1909.3 862.7 L1908.1 864.2 L1905.8 865.8 L1909.8 867.3 L1908.8 868.8 L1911.2 870.4 L1908.7 871.9 L1915.4 873.5 L1900.7 875.0 L1905.7 876.5 L1908.9 878.0 L1911.0 879.5 L1901.5 881.0 L1902.1 882.5 L1907.3 884.0 L1912.5 885.5 L1913.5 887.0 L1903.2 888.5 L1909.2 890.0 L1913.6 891.7 L1909.1 893.3 L1904.0 895.0 L1904.5 896.7 L1901.7 898.3 L1909.9 900.0 L1906.2 901.7 L1904.9 903.3 L1903.1 905.0 L1904.5 906.7 L1902.1 908.3 L1901.2 910.0 L1903.3 911.5 L1902.7 913.0 L1904.1 914.5 L1903.1 916.0 L1905.5 917.5 L1901.9 919.0 L1902.1 920.5 L1901.6 922.0 L1898.4 923.5 L1903.2 925.0 L1898.2 926.7 L1894.3 928.3 L1901.1 930.0 L1899.6 931.7 L1895.4 933.3 L1898.6 935.0 L1898.4 936.7 L1897.0 938.3 L1891.1 940.0 L1893.6 941.7 L1889.9 943.3 L1890.1 945.0 L1890.0 946.7 L1888.9 948.3 L1892.2 950.0 L1888.7 951.7 L1892.0 953.3 L1890.8 955.0 L1887.8 956.7 L1889.1 958.3 L1890.1 960.0 L1890.8 961.7 L1886.4 963.3 L1890.9 965.0 L1887.2 966.7 L1887.8 968.3 L1879.8 970.0 L1878.9 971.7 L1884.1 973.3 L1879.8 975.0 L1880.7 976.7 L1882.2 978.3 L1874.5 980.0 L1878.3 981.7 L1882.2 983.3 L1878.9 985.0 L1875.8 986.7 L1876.1 988.3 L1873.8 990.0 L1874.9 991.7 L1875.8 993.3 L1871.0 995.0 L1870.9 995.0 L1872.2 996.7 L1870.0 998.3 L1868.1 1000.0 L1868.7 1001.7 L1868.6 1003.3 L1867.6 1005.0 L1866.8 1006.7 L1865.2 1008.3 L1863.5 1010.0 L1862.6 1011.7 L1862.5 1013.3 L1861.9 1015.0 L1862.7 1016.7 L1862.2 1018.3 L1859.8 1020.0 L1860.7 1021.7 L1859.8 1023.3 L1860.3 1025.0 L1860.5 1026.7 L1859.2 1028.3 L1856.0 1030.0 L1857.2 1031.7 L1854.9 1033.3 L1857.0 1035.0 L1854.9 1036.7 L1854.4 1038.3 L1855.9 1040.0 L1852.6 1041.7 L1853.1 1043.3 L1852.0 1045.0 L1851.9 1046.7 L1851.4 1048.3 L1852.5 1050.0 L1851.6 1051.7 L1851.8 1053.3 L1851.9 1055.0 L1849.9 1056.7 L1852.6 1058.3 L1851.9 1060.0 L1850.4 1061.7 L1851.1 1063.3 L1853.0 1065.0 L1853.9 1066.7 L1852.6 1068.3 L1853.2 1070.0 L1853.1 1071.7 L1853.6 1073.3 L1852.4 1075.0 L1852.9 1076.7 L1850.9 1078.3 L1850.2 1080.0 L1851.2 1081.7 L1851.4 1083.3 L1850.4 1085.0 L1849.8 1086.7 L1848.6 1088.3 L1848.1 1090.0 L1847.6 1091.7 L1846.1 1093.3 L1845.3 1095.0 L1843.7 1096.7 L1842.7 1098.3 L1840.2 1100.0 L1842.0 1101.7 L1841.9 1103.3 L1842.0 1105.0 L1839.3 1106.7 L1839.6 1108.3 L1839.3 1110.0 L1838.0 1111.7 L1840.5 1113.3 L1841.5 1115.0 L1839.3 1116.7 L1840.4 1118.3 L1842.0 1120.0 L1839.5 1121.7 L1841.0 1123.3 L1842.0 1125.0 L1842.1 1126.7 L1838.4 1128.3 L1837.2 1130.0 L1837.8 1131.7 L1838.6 1133.3 L1835.9 1135.0 L1835.2 1136.7 L1834.3 1138.3 L1835.9 1140.0 L1834.0 1141.7 L1834.0 1143.3 L1833.5 1145.0 L1833.3 1146.7 L1831.9 1148.3 L1830.8 1150.0 L1831.0 1151.7 L1830.1 1153.3 L1827.6 1155.0 L1827.3 1156.7 L1828.3 1158.3 L1827.5 1160.0 L1827.2 1161.7 L1828.0 1163.3 L1831.6 1165.0 L1829.5 1166.7 L1829.6 1168.3 L1829.9 1170.0 L1831.2 1171.8 L1834.6 1173.5 L1836.8 1175.2 L1838.5 1177.0 L1842.3 1178.7 L1850.3 1180.3 L1856.2 1182.0 L1865.4 1184.0 L1872.5 1186.0 L1881.8 1188.0 L1888.7 1190.0 L1894.5 1191.8 L1899.4 1193.5 L1895.0 1195.5" fill="none" stroke="#008000" stroke-width="1.80" stroke-linejoin="round"/>
</g>
<rect x="1709.50" y="123.50" width="223.00" height="1075.00" fill="none" stroke="#000" stroke-width="1.1"/>
<rect x="1821.60" y="185.40" width="80.80" height="28.80" rx="3.5" ry="3.5" fill="#fff" fill-opacity="0.8" stroke="#ccc" stroke-opacity="0.8" stroke-width="1.1"/>
<line x1="1826.80" y1="199.00" x2="1859.30" y2="199.00" stroke="#008000" stroke-width="1.75" />
<text x="1871.50" y="204.60" font-size="17.04" text-anchor="start" textLength="24.83" lengthAdjust="spacingAndGlyphs" fill="#000" stroke="#000" stroke-width="0.19" >RH</text>
<g transform="translate(103.3,661) rotate(-90)">
<text x="0.00" y="0.00" font-size="22.30" text-anchor="middle" textLength="122.44" lengthAdjust="spacingAndGlyphs" fill="#000" stroke="#000" stroke-width="0.25" >Height [km]</text>
</g>
<text x="110.34" y="1247.60" font-size="22.30" text-anchor="start" textLength="193.52" lengthAdjust="spacingAndGlyphs" fill="#000" stroke="#000" stroke-width="0.25" >Backsc. coeff. [Msr</text>
<text x="303.86" y="1240.80" font-size="15.61" text-anchor="start" textLength="20.64" lengthAdjust="spacingAndGlyphs" fill="#000" stroke="#000" stroke-width="0.18" >−1</text>
<text x="324.50" y="1247.60" font-size="22.30" text-anchor="start" textLength="25.32" lengthAdjust="spacingAndGlyphs" fill="#000" stroke="#000" stroke-width="0.25" > m</text>
<text x="349.82" y="1240.80" font-size="15.61" text-anchor="start" textLength="20.64" lengthAdjust="spacingAndGlyphs" fill="#000" stroke="#000" stroke-width="0.18" >−1</text>
<text x="370.46" y="1247.60" font-size="22.30" text-anchor="start" textLength="7.80" lengthAdjust="spacingAndGlyphs" fill="#000" stroke="#000" stroke-width="0.25" >]</text>
<text x="448.94" y="1247.60" font-size="22.30" text-anchor="start" textLength="193.68" lengthAdjust="spacingAndGlyphs" fill="#000" stroke="#000" stroke-width="0.25" >Extinct. coeff. [Mm</text>
<text x="642.62" y="1240.80" font-size="15.61" text-anchor="start" textLength="20.64" lengthAdjust="spacingAndGlyphs" fill="#000" stroke="#000" stroke-width="0.18" >−1</text>
<text x="663.26" y="1247.60" font-size="22.30" text-anchor="start" textLength="7.80" lengthAdjust="spacingAndGlyphs" fill="#000" stroke="#000" stroke-width="0.25" >]</text>
<text x="875.00" y="1244.30" font-size="22.30" text-anchor="middle" textLength="153.51" lengthAdjust="spacingAndGlyphs" fill="#000" stroke="#000" stroke-width="0.25" >Lidar ratio [Sr]</text>
<text x="1115.18" y="1249.60" font-size="21" font-family="'Liberation Sans', sans-serif" font-style="italic" textLength="13.7" lengthAdjust="spacingAndGlyphs">Å</text>
<text x="1128.88" y="1249.60" font-size="22.30" text-anchor="start" textLength="135.95" lengthAdjust="spacingAndGlyphs" fill="#000" stroke="#000" stroke-width="0.25" >ngström Exp.</text>
<text x="1506.00" y="1244.00" font-size="22.30" text-anchor="middle" textLength="119.79" lengthAdjust="spacingAndGlyphs" fill="#000" stroke="#000" stroke-width="0.25" >Depol. ratio</text>
<text x="1736.53" y="1248.30" font-size="22.30" text-anchor="start" textLength="84.70" lengthAdjust="spacingAndGlyphs" fill="#000" stroke="#000" stroke-width="0.25" >WVMR [</text>
<text x="1821.23" y="1248.30" font-size="21.5" font-family="'Liberation Sans', sans-serif" font-style="italic" textLength="12.7" lengthAdjust="spacingAndGlyphs">g</text>
<text x="1838.53" y="1251.60" font-size="24" font-family="'Liberation Sans', sans-serif">*</text>
<text x="1852.73" y="1248.30" font-size="21.5" font-family="'Liberation Sans', sans-serif" font-style="italic" textLength="24.3" lengthAdjust="spacingAndGlyphs">kg</text>
<text x="1877.03" y="1240.70" font-size="15" font-family="'Liberation Sans', sans-serif" textLength="20.6" lengthAdjust="spacingAndGlyphs">−1</text>
<text x="1897.67" y="1248.30" font-size="22.30" text-anchor="start" textLength="7.80" lengthAdjust="spacingAndGlyphs" fill="#000" stroke="#000" stroke-width="0.25" >]</text>
<text x="1821.00" y="93.30" font-size="22.30" text-anchor="middle" textLength="174.84" lengthAdjust="spacingAndGlyphs" fill="#000" stroke="#000" stroke-width="0.25" >Rel.Humidity [%]</text>
<rect x="195" y="1276" width="211" height="65.6" fill="#f2f3f8"/>
<text x="200.30" y="1295.00" font-size="17.17" text-anchor="start" textLength="179.20" lengthAdjust="spacingAndGlyphs" fill="#000" stroke="#000" stroke-width="0.19" >ref.H_355: nan-nan km</text>
<text x="200.30" y="1314.30" font-size="17.17" text-anchor="start" textLength="189.74" lengthAdjust="spacingAndGlyphs" fill="#000" stroke="#000" stroke-width="0.19" >ref.H_532: 2.30-3.79 km</text>
<text x="200.30" y="1333.80" font-size="17.17" text-anchor="start" textLength="199.54" lengthAdjust="spacingAndGlyphs" fill="#000" stroke="#000" stroke-width="0.19" >ref.H_1064: 2.69-4.19 km</text>
<rect x="1695" y="1274" width="166" height="28" fill="#f2f3f8"/>
<text x="1700.00" y="1292.30" font-size="17.17" text-anchor="start" textLength="154.53" lengthAdjust="spacingAndGlyphs" fill="#000" stroke="#000" stroke-width="0.19" >WV-calib.const.: 6.5</text>
<rect x="1489.3" y="327" width="106.5" height="76.5" fill="#f2f3f8" fill-opacity="0.85"/>
<text x="1495.50" y="346.00" font-size="16.04" font-family="'Liberation Sans', sans-serif" font-style="italic">η</text>
<text x="1504.51" y="347.91" font-size="11.12" font-family="'Liberation Sans', sans-serif" textLength="19.81" lengthAdjust="spacingAndGlyphs">355</text>
<text x="1525.52" y="346.00" font-size="17.04" text-anchor="start" textLength="63.47" lengthAdjust="spacingAndGlyphs" fill="#000" stroke="#000" stroke-width="0.19" >: 112.70</text>
<text x="1495.50" y="369.00" font-size="16.04" font-family="'Liberation Sans', sans-serif" font-style="italic">η</text>
<text x="1504.51" y="370.91" font-size="11.12" font-family="'Liberation Sans', sans-serif" textLength="19.81" lengthAdjust="spacingAndGlyphs">532</text>
<text x="1525.52" y="369.00" font-size="17.04" text-anchor="start" textLength="53.75" lengthAdjust="spacingAndGlyphs" fill="#000" stroke="#000" stroke-width="0.19" >: 10.81</text>
<text x="1495.50" y="392.30" font-size="16.04" font-family="'Liberation Sans', sans-serif" font-style="italic">η</text>
<text x="1504.51" y="394.21" font-size="11.12" font-family="'Liberation Sans', sans-serif" textLength="26.61" lengthAdjust="spacingAndGlyphs">1064</text>
<text x="1532.32" y="392.30" font-size="17.04" text-anchor="start" textLength="44.03" lengthAdjust="spacingAndGlyphs" fill="#000" stroke="#000" stroke-width="0.19" >: 1.48</text>
<text x="1001.50" y="1328.30" font-size="14.83" text-anchor="start" textLength="87.72" lengthAdjust="spacingAndGlyphs" fill="#f02828" stroke="#f02828" stroke-width="0.17" font-weight="bold" >Preliminary</text>
<text x="1001.50" y="1343.30" font-size="14.83" text-anchor="start" textLength="57.30" lengthAdjust="spacingAndGlyphs" fill="#f02828" stroke="#f02828" stroke-width="0.17" font-weight="bold" >Results.</text>
<text x="1500.50" y="1332.00" font-size="12.38" text-anchor="start" textLength="106.77" lengthAdjust="spacingAndGlyphs" fill="#000" stroke="#000" stroke-width="0.14" font-weight="bold" >© TROPOS 2025.</text>
<text x="1500.00" y="1344.00" font-size="12.38" text-anchor="start" textLength="137.27" lengthAdjust="spacingAndGlyphs" fill="#000" stroke="#000" stroke-width="0.14" font-weight="bold" >CC BY SA 4.0 License.</text>
<g>
<rect x="662.3" y="1297.6" width="155.2" height="54.2" rx="2.5" fill="#b7bcb5" stroke="#333" stroke-width="1"/>
<path d="M662.3 1336.2 H817.5 V1351.8 H662.3 Z" fill="#333"/>
<circle cx="689.4" cy="1322.0" r="21.6" fill="#b7bcb5"/>
<circle cx="689.4" cy="1322.0" r="18.2" fill="#fff" stroke="#333" stroke-width="3.4"/>
<text x="689.4" y="1329.0" font-family="'Liberation Sans', sans-serif" font-weight="bold" font-size="20.5" text-anchor="middle" textLength="25" lengthAdjust="spacingAndGlyphs" fill="#333">cc</text>
<circle cx="744.0" cy="1316.6" r="13.5" fill="#fff" stroke="#333" stroke-width="2.7"/>
<circle cx="744.3" cy="1308.4" r="2.2" fill="#333"/>
<path d="M740.2 1311.8 h8.2 v7.4 h-2 v7.2 h-4.2 v-7.2 h-2 z" fill="#333"/>
<circle cx="781.0" cy="1316.6" r="13.5" fill="#fff" stroke="#333" stroke-width="2.7"/>
<path d="M776.2 1313.2 A6.3 6.3 0 1 1 775.6 1319.8" fill="none" stroke="#333" stroke-width="3"/>
<path d="M772.3 1312.4 h7.4 l-3.7 5.2 z" fill="#333"/>
<text x="743.8" y="1348.6" font-family="'Liberation Sans', sans-serif" font-weight="bold" font-size="11.8" text-anchor="middle" fill="#fff">BY</text>
<text x="780.2" y="1348.6" font-family="'Liberation Sans', sans-serif" font-weight="bold" font-size="11.8" text-anchor="middle" fill="#fff">SA</text>
</g>
</svg>
</div>
</body></html>
